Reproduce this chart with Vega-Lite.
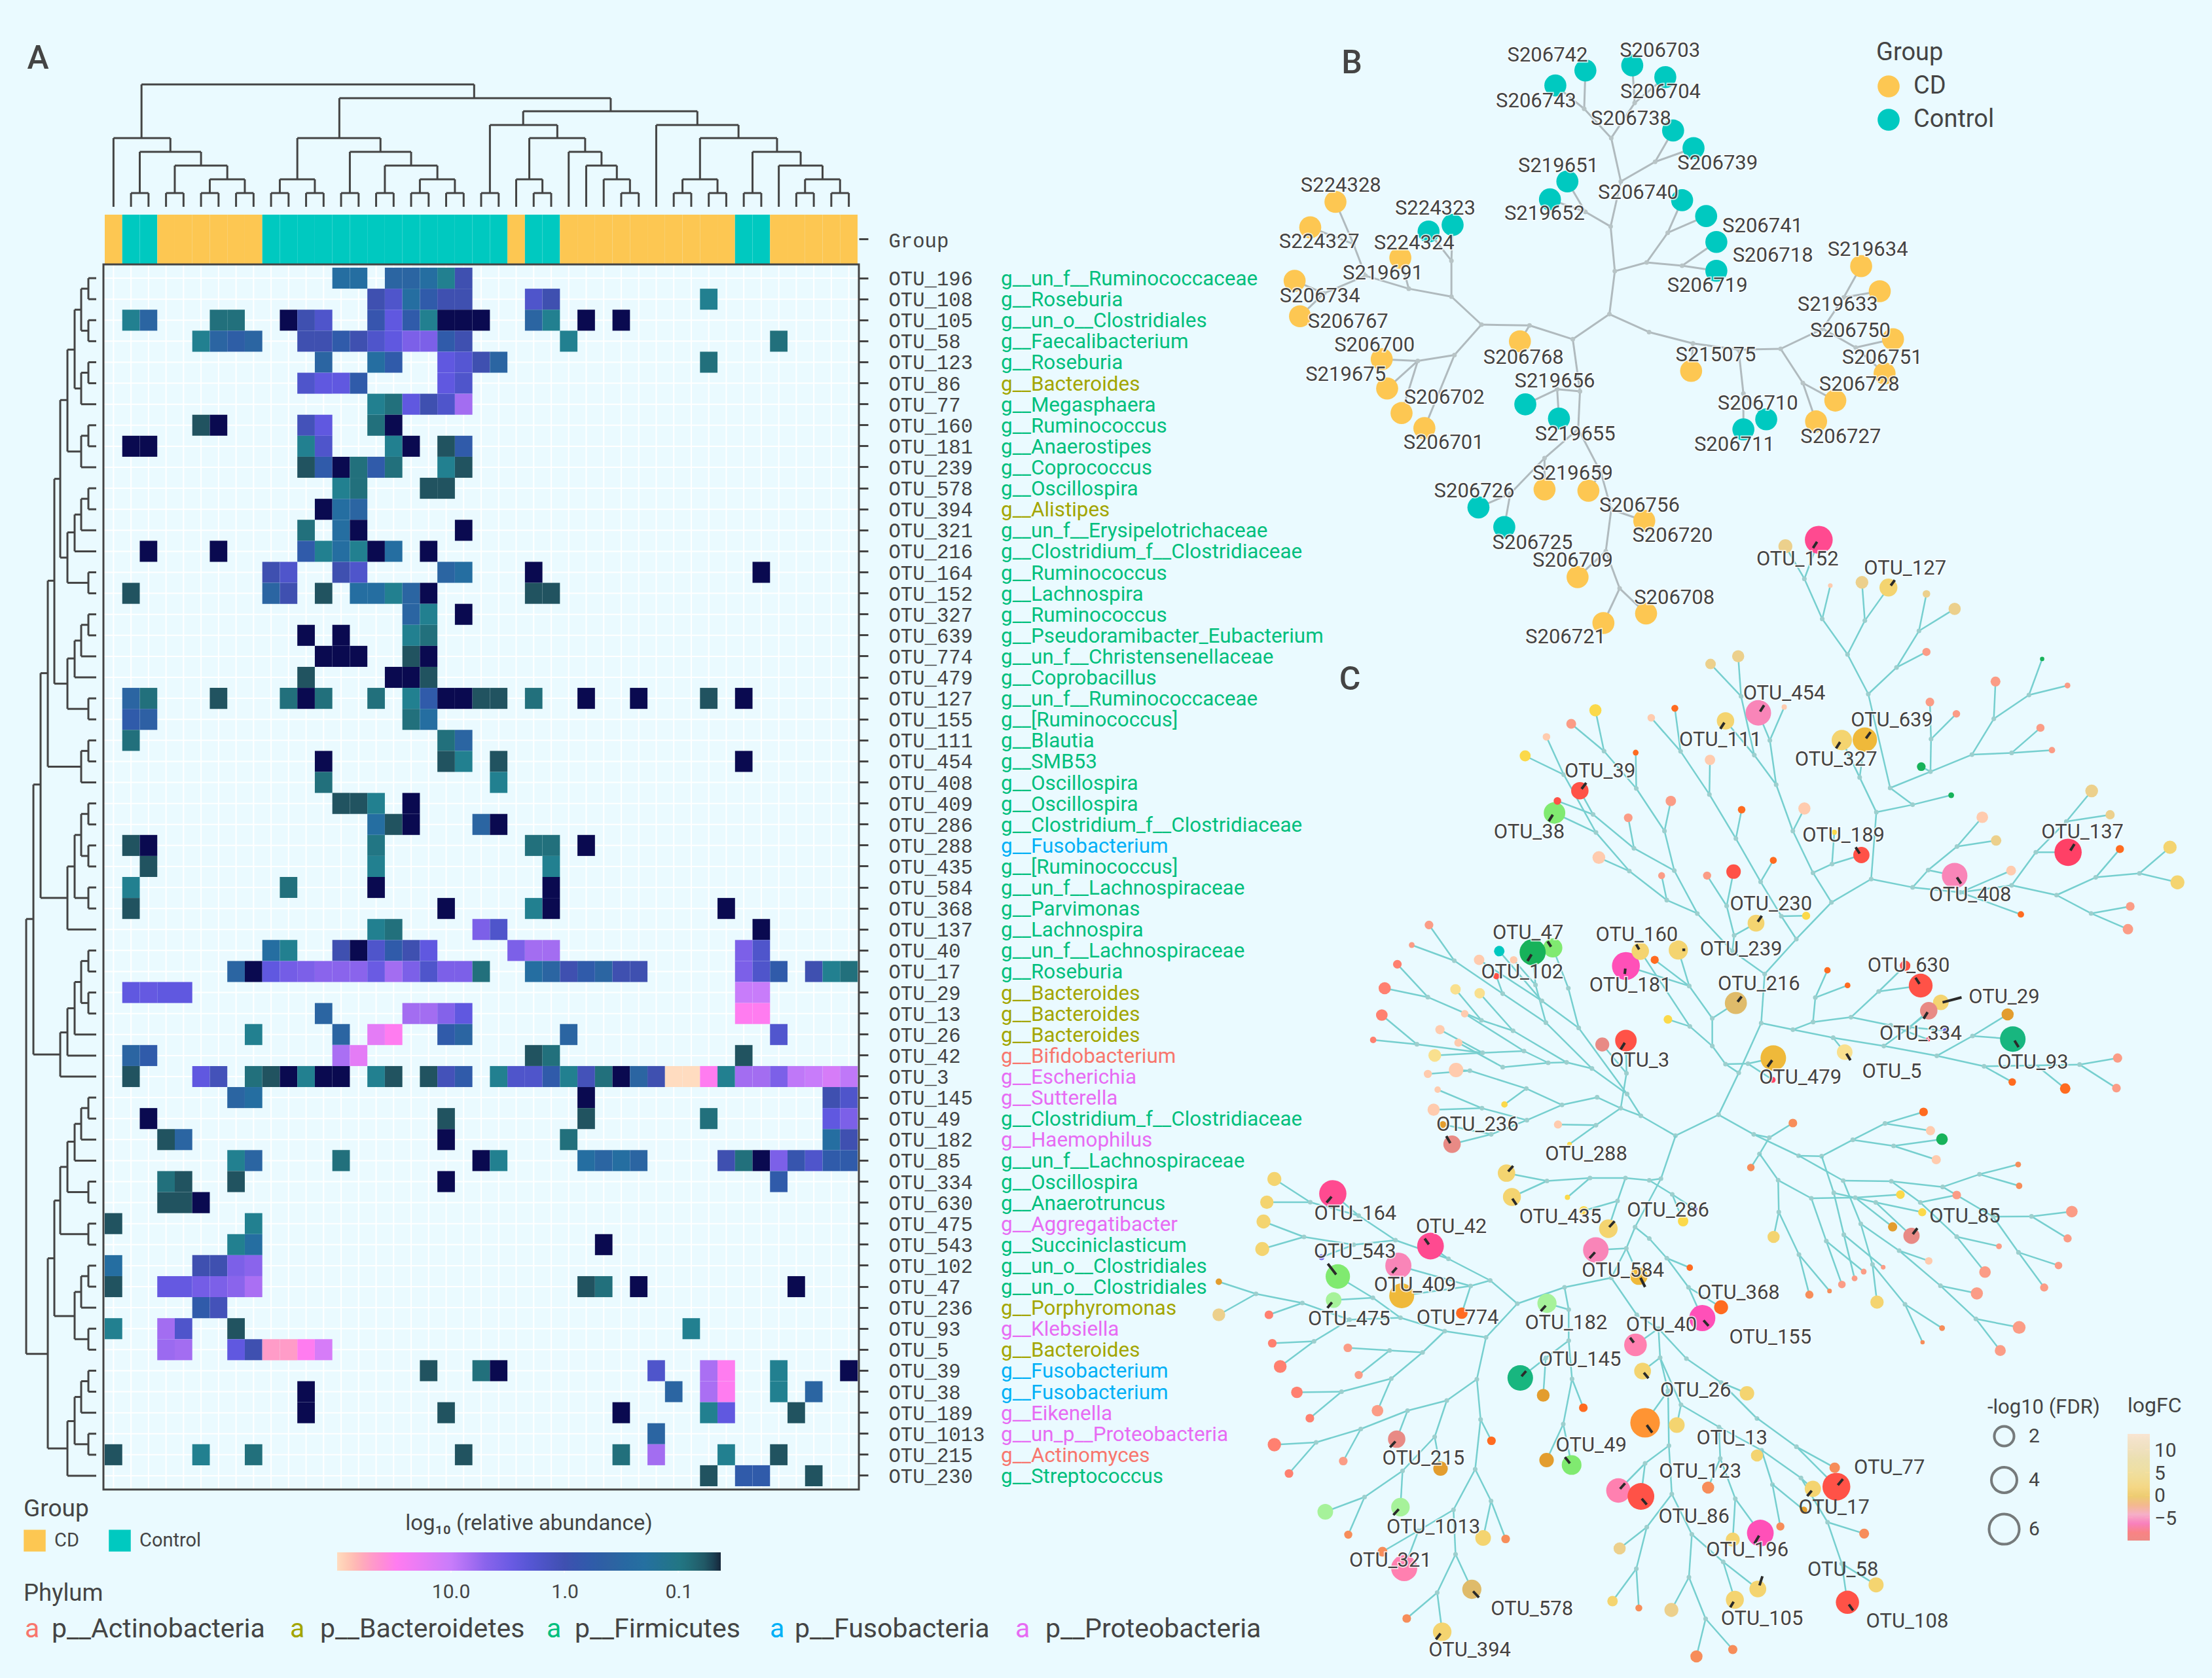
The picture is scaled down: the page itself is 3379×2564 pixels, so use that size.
{"$schema":"https://vega.github.io/schema/vega-lite/v6.json","width":3379,"height":2564,"padding":0,"autosize":{"type":"none"},"background":"#EAFAFF","config":{"font":"Roboto","view":{"stroke":null},"legend":{"titleColor":"#444","labelColor":"#444","titleFont":"Roboto","labelFont":"Roboto"}},
"resolve":{"scale":{"x":"independent","y":"independent","color":"independent","size":"independent"},"axis":{"y":"independent"}},
"datasets":{
"gc":[{"c":0},{"c":1},{"c":2},{"c":3},{"c":4},{"c":5},{"c":6},{"c":7},{"c":8},{"c":9},{"c":10},{"c":11},{"c":12},{"c":13},{"c":14},{"c":15},{"c":16},{"c":17},{"c":18},{"c":19},{"c":20},{"c":21},{"c":22},{"c":23},{"c":24},{"c":25},{"c":26},{"c":27},{"c":28},{"c":29},{"c":30},{"c":31},{"c":32},{"c":33},{"c":34},{"c":35},{"c":36},{"c":37},{"c":38},{"c":39},{"c":40},{"c":41},{"c":42}],
"gr":[{"r":0},{"r":1},{"r":2},{"r":3},{"r":4},{"r":5},{"r":6},{"r":7},{"r":8},{"r":9},{"r":10},{"r":11},{"r":12},{"r":13},{"r":14},{"r":15},{"r":16},{"r":17},{"r":18},{"r":19},{"r":20},{"r":21},{"r":22},{"r":23},{"r":24},{"r":25},{"r":26},{"r":27},{"r":28},{"r":29},{"r":30},{"r":31},{"r":32},{"r":33},{"r":34},{"r":35},{"r":36},{"r":37},{"r":38},{"r":39},{"r":40},{"r":41},{"r":42},{"r":43},{"r":44},{"r":45},{"r":46},{"r":47},{"r":48},{"r":49},{"r":50},{"r":51},{"r":52},{"r":53},{"r":54},{"r":55},{"r":56},{"r":57}],
"dt":[{"a":1,"b":2,"h":295,"ha":316,"hb":316},{"a":3,"b":4,"h":295,"ha":316,"hb":316},{"a":5,"b":6,"h":295,"ha":316,"hb":316},{"a":7,"b":8,"h":295,"ha":316,"hb":316},{"a":5.5,"b":7.5,"h":274,"ha":295,"hb":295},{"a":3.5,"b":6.5,"h":253,"ha":295,"hb":274},{"a":1.5,"b":5,"h":232,"ha":295,"hb":253},{"a":0,"b":3.25,"h":211,"ha":316,"hb":232},{"a":9,"b":10,"h":295,"ha":316,"hb":316},{"a":11,"b":12,"h":295,"ha":316,"hb":316},{"a":9.5,"b":11.5,"h":274,"ha":295,"hb":295},{"a":13,"b":14,"h":295,"ha":316,"hb":316},{"a":15,"b":16,"h":295,"ha":316,"hb":316},{"a":17,"b":18,"h":295,"ha":316,"hb":316},{"a":19,"b":20,"h":295,"ha":316,"hb":316},{"a":17.5,"b":19.5,"h":274,"ha":295,"hb":295},{"a":15.5,"b":18.5,"h":253,"ha":295,"hb":274},{"a":13.5,"b":17,"h":232,"ha":295,"hb":253},{"a":10.5,"b":15.25,"h":211,"ha":274,"hb":232},{"a":21,"b":22,"h":295,"ha":316,"hb":316},{"a":24,"b":25,"h":295,"ha":316,"hb":316},{"a":23,"b":24.5,"h":274,"ha":316,"hb":295},{"a":29,"b":30,"h":295,"ha":316,"hb":316},{"a":28,"b":29.5,"h":274,"ha":316,"hb":295},{"a":27,"b":28.75,"h":253,"ha":316,"hb":274},{"a":26,"b":27.875,"h":232,"ha":316,"hb":253},{"a":23.75,"b":26.94,"h":211,"ha":274,"hb":232},{"a":21.5,"b":25.35,"h":191,"ha":295,"hb":211},{"a":32,"b":33,"h":295,"ha":316,"hb":316},{"a":34,"b":35,"h":295,"ha":316,"hb":316},{"a":32.5,"b":34.5,"h":274,"ha":295,"hb":295},{"a":36,"b":37,"h":295,"ha":316,"hb":316},{"a":39,"b":40,"h":295,"ha":316,"hb":316},{"a":41,"b":42,"h":295,"ha":316,"hb":316},{"a":39.5,"b":41.5,"h":274,"ha":295,"hb":295},{"a":38,"b":40.5,"h":253,"ha":316,"hb":274},{"a":36.5,"b":39.25,"h":232,"ha":295,"hb":253},{"a":33.5,"b":37.9,"h":211,"ha":274,"hb":232},{"a":31,"b":35.7,"h":191,"ha":316,"hb":211},{"a":23.4,"b":33.35,"h":170,"ha":191,"hb":191},{"a":12.9,"b":28.4,"h":150,"ha":211,"hb":170},{"a":1.6,"b":20.6,"h":129,"ha":211,"hb":150}],
"dl":[{"a":0,"b":1,"h":135,"ha":147,"hb":147},{"a":2,"b":3,"h":135,"ha":147,"hb":147},{"a":0.5,"b":2.5,"h":124,"ha":135,"hb":135},{"a":4,"b":5,"h":135,"ha":147,"hb":147},{"a":4.5,"b":6,"h":124,"ha":135,"hb":147},{"a":1.5,"b":5.25,"h":114,"ha":124,"hb":124},{"a":7,"b":8,"h":135,"ha":147,"hb":147},{"a":7.5,"b":9,"h":124,"ha":135,"hb":147},{"a":3.4,"b":8.25,"h":103,"ha":114,"hb":124},{"a":10,"b":11,"h":135,"ha":147,"hb":147},{"a":10.5,"b":12,"h":124,"ha":135,"hb":147},{"a":11.25,"b":13,"h":114,"ha":124,"hb":147},{"a":14,"b":15,"h":135,"ha":147,"hb":147},{"a":12.1,"b":14.5,"h":103,"ha":114,"hb":135},{"a":5.8,"b":13.3,"h":92,"ha":103,"hb":103},{"a":16,"b":17,"h":135,"ha":147,"hb":147},{"a":16.5,"b":18,"h":124,"ha":135,"hb":147},{"a":17.25,"b":19,"h":114,"ha":124,"hb":147},{"a":20,"b":21,"h":135,"ha":147,"hb":147},{"a":18.1,"b":20.5,"h":103,"ha":114,"hb":135},{"a":9.55,"b":19.3,"h":83,"ha":92,"hb":103},{"a":22,"b":23,"h":135,"ha":147,"hb":147},{"a":22.5,"b":24,"h":124,"ha":135,"hb":147},{"a":14.4,"b":23.25,"h":73,"ha":83,"hb":124},{"a":25,"b":26,"h":135,"ha":147,"hb":147},{"a":27,"b":28,"h":135,"ha":147,"hb":147},{"a":25.5,"b":27.5,"h":124,"ha":135,"hb":135},{"a":29,"b":30,"h":135,"ha":147,"hb":147},{"a":26.5,"b":29.5,"h":114,"ha":124,"hb":135},{"a":28,"b":31,"h":103,"ha":114,"hb":147},{"a":18.8,"b":29.5,"h":62,"ha":73,"hb":103},{"a":32,"b":33,"h":135,"ha":147,"hb":147},{"a":34,"b":35,"h":135,"ha":147,"hb":147},{"a":32.5,"b":34.5,"h":124,"ha":135,"hb":135},{"a":33.5,"b":36,"h":114,"ha":124,"hb":147},{"a":34.75,"b":37,"h":103,"ha":114,"hb":147},{"a":35.9,"b":38,"h":92,"ha":103,"hb":147},{"a":24.1,"b":36.95,"h":51,"ha":62,"hb":92},{"a":39,"b":40,"h":135,"ha":147,"hb":147},{"a":39.5,"b":41,"h":124,"ha":135,"hb":147},{"a":40.25,"b":42,"h":114,"ha":124,"hb":147},{"a":43,"b":44,"h":135,"ha":147,"hb":147},{"a":41.1,"b":43.5,"h":103,"ha":114,"hb":135},{"a":45,"b":46,"h":135,"ha":147,"hb":147},{"a":42.3,"b":45.5,"h":92,"ha":103,"hb":135},{"a":47,"b":48,"h":135,"ha":147,"hb":147},{"a":47.5,"b":49,"h":124,"ha":135,"hb":147},{"a":50,"b":51,"h":135,"ha":147,"hb":147},{"a":48.25,"b":50.5,"h":114,"ha":124,"hb":135},{"a":43.9,"b":49.4,"h":83,"ha":92,"hb":114},{"a":52,"b":53,"h":135,"ha":147,"hb":147},{"a":52.5,"b":54,"h":124,"ha":135,"hb":147},{"a":55,"b":56,"h":135,"ha":147,"hb":147},{"a":53.25,"b":55.5,"h":114,"ha":124,"hb":135},{"a":54.4,"b":57,"h":103,"ha":114,"hb":147},{"a":46.65,"b":55.7,"h":73,"ha":83,"hb":103},{"a":30.5,"b":51.2,"h":40,"ha":51,"hb":73}],
"gb":[{"c":0,"g":"CD"},{"c":1,"g":"Control"},{"c":2,"g":"Control"},{"c":3,"g":"CD"},{"c":4,"g":"CD"},{"c":5,"g":"CD"},{"c":6,"g":"CD"},{"c":7,"g":"CD"},{"c":8,"g":"CD"},{"c":9,"g":"Control"},{"c":10,"g":"Control"},{"c":11,"g":"Control"},{"c":12,"g":"Control"},{"c":13,"g":"Control"},{"c":14,"g":"Control"},{"c":15,"g":"Control"},{"c":16,"g":"Control"},{"c":17,"g":"Control"},{"c":18,"g":"Control"},{"c":19,"g":"Control"},{"c":20,"g":"Control"},{"c":21,"g":"Control"},{"c":22,"g":"Control"},{"c":23,"g":"CD"},{"c":24,"g":"Control"},{"c":25,"g":"Control"},{"c":26,"g":"CD"},{"c":27,"g":"CD"},{"c":28,"g":"CD"},{"c":29,"g":"CD"},{"c":30,"g":"CD"},{"c":31,"g":"CD"},{"c":32,"g":"CD"},{"c":33,"g":"CD"},{"c":34,"g":"CD"},{"c":35,"g":"CD"},{"c":36,"g":"Control"},{"c":37,"g":"Control"},{"c":38,"g":"CD"},{"c":39,"g":"CD"},{"c":40,"g":"CD"},{"c":41,"g":"CD"},{"c":42,"g":"CD"}],
"genus":[{"o":"OTU_196","n":"g__un_f__Ruminococcaceae","p":"Firmicutes"},{"o":"OTU_108","n":"g__Roseburia","p":"Firmicutes"},{"o":"OTU_105","n":"g__un_o__Clostridiales","p":"Firmicutes"},{"o":"OTU_58","n":"g__Faecalibacterium","p":"Firmicutes"},{"o":"OTU_123","n":"g__Roseburia","p":"Firmicutes"},{"o":"OTU_86","n":"g__Bacteroides","p":"Bacteroidetes"},{"o":"OTU_77","n":"g__Megasphaera","p":"Firmicutes"},{"o":"OTU_160","n":"g__Ruminococcus","p":"Firmicutes"},{"o":"OTU_181","n":"g__Anaerostipes","p":"Firmicutes"},{"o":"OTU_239","n":"g__Coprococcus","p":"Firmicutes"},{"o":"OTU_578","n":"g__Oscillospira","p":"Firmicutes"},{"o":"OTU_394","n":"g__Alistipes","p":"Bacteroidetes"},{"o":"OTU_321","n":"g__un_f__Erysipelotrichaceae","p":"Firmicutes"},{"o":"OTU_216","n":"g__Clostridium_f__Clostridiaceae","p":"Firmicutes"},{"o":"OTU_164","n":"g__Ruminococcus","p":"Firmicutes"},{"o":"OTU_152","n":"g__Lachnospira","p":"Firmicutes"},{"o":"OTU_327","n":"g__Ruminococcus","p":"Firmicutes"},{"o":"OTU_639","n":"g__Pseudoramibacter_Eubacterium","p":"Firmicutes"},{"o":"OTU_774","n":"g__un_f__Christensenellaceae","p":"Firmicutes"},{"o":"OTU_479","n":"g__Coprobacillus","p":"Firmicutes"},{"o":"OTU_127","n":"g__un_f__Ruminococcaceae","p":"Firmicutes"},{"o":"OTU_155","n":"g__[Ruminococcus]","p":"Firmicutes"},{"o":"OTU_111","n":"g__Blautia","p":"Firmicutes"},{"o":"OTU_454","n":"g__SMB53","p":"Firmicutes"},{"o":"OTU_408","n":"g__Oscillospira","p":"Firmicutes"},{"o":"OTU_409","n":"g__Oscillospira","p":"Firmicutes"},{"o":"OTU_286","n":"g__Clostridium_f__Clostridiaceae","p":"Firmicutes"},{"o":"OTU_288","n":"g__Fusobacterium","p":"Fusobacteria"},{"o":"OTU_435","n":"g__[Ruminococcus]","p":"Firmicutes"},{"o":"OTU_584","n":"g__un_f__Lachnospiraceae","p":"Firmicutes"},{"o":"OTU_368","n":"g__Parvimonas","p":"Firmicutes"},{"o":"OTU_137","n":"g__Lachnospira","p":"Firmicutes"},{"o":"OTU_40","n":"g__un_f__Lachnospiraceae","p":"Firmicutes"},{"o":"OTU_17","n":"g__Roseburia","p":"Firmicutes"},{"o":"OTU_29","n":"g__Bacteroides","p":"Bacteroidetes"},{"o":"OTU_13","n":"g__Bacteroides","p":"Bacteroidetes"},{"o":"OTU_26","n":"g__Bacteroides","p":"Bacteroidetes"},{"o":"OTU_42","n":"g__Bifidobacterium","p":"Actinobacteria"},{"o":"OTU_3","n":"g__Escherichia","p":"Proteobacteria"},{"o":"OTU_145","n":"g__Sutterella","p":"Proteobacteria"},{"o":"OTU_49","n":"g__Clostridium_f__Clostridiaceae","p":"Firmicutes"},{"o":"OTU_182","n":"g__Haemophilus","p":"Proteobacteria"},{"o":"OTU_85","n":"g__un_f__Lachnospiraceae","p":"Firmicutes"},{"o":"OTU_334","n":"g__Oscillospira","p":"Firmicutes"},{"o":"OTU_630","n":"g__Anaerotruncus","p":"Firmicutes"},{"o":"OTU_475","n":"g__Aggregatibacter","p":"Proteobacteria"},{"o":"OTU_543","n":"g__Succiniclasticum","p":"Firmicutes"},{"o":"OTU_102","n":"g__un_o__Clostridiales","p":"Firmicutes"},{"o":"OTU_47","n":"g__un_o__Clostridiales","p":"Firmicutes"},{"o":"OTU_236","n":"g__Porphyromonas","p":"Bacteroidetes"},{"o":"OTU_93","n":"g__Klebsiella","p":"Proteobacteria"},{"o":"OTU_5","n":"g__Bacteroides","p":"Bacteroidetes"},{"o":"OTU_39","n":"g__Fusobacterium","p":"Fusobacteria"},{"o":"OTU_38","n":"g__Fusobacterium","p":"Fusobacteria"},{"o":"OTU_189","n":"g__Eikenella","p":"Proteobacteria"},{"o":"OTU_1013","n":"g__un_p__Proteobacteria","p":"Proteobacteria"},{"o":"OTU_215","n":"g__Actinomyces","p":"Actinobacteria"},{"o":"OTU_230","n":"g__Streptococcus","p":"Firmicutes"}],
"cells":[
{"o":"OTU_196","c":13,"v":0.22},{"o":"OTU_196","c":14,"v":0.22},{"o":"OTU_196","c":16,"v":0.35},{"o":"OTU_196","c":17,"v":0.35},{"o":"OTU_196","c":18,"v":0.22},{"o":"OTU_196","c":19,"v":0.13},{"o":"OTU_196","c":20,"v":1},
{"o":"OTU_108","c":15,"v":1},{"o":"OTU_108","c":16,"v":1.7},{"o":"OTU_108","c":17,"v":0.22},{"o":"OTU_108","c":18,"v":0.6},{"o":"OTU_108","c":19,"v":1},{"o":"OTU_108","c":20,"v":1},{"o":"OTU_108","c":24,"v":1.7},{"o":"OTU_108","c":25,"v":1},{"o":"OTU_108","c":34,"v":0.13},
{"o":"OTU_105","c":1,"v":0.13},{"o":"OTU_105","c":2,"v":0.35},{"o":"OTU_105","c":6,"v":0.085},{"o":"OTU_105","c":7,"v":0.085},{"o":"OTU_105","c":10,"v":0.03},{"o":"OTU_105","c":11,"v":1},{"o":"OTU_105","c":12,"v":1.7},{"o":"OTU_105","c":15,"v":0.8},{"o":"OTU_105","c":16,"v":2.6},{"o":"OTU_105","c":17,"v":0.6},{"o":"OTU_105","c":18,"v":0.13},{"o":"OTU_105","c":19,"v":0.03},{"o":"OTU_105","c":20,"v":0.03},{"o":"OTU_105","c":21,"v":0.03},{"o":"OTU_105","c":24,"v":0.35},{"o":"OTU_105","c":25,"v":0.13},{"o":"OTU_105","c":27,"v":0.03},{"o":"OTU_105","c":29,"v":0.03},
{"o":"OTU_58","c":5,"v":0.13},{"o":"OTU_58","c":6,"v":0.35},{"o":"OTU_58","c":7,"v":0.5},{"o":"OTU_58","c":8,"v":0.35},{"o":"OTU_58","c":11,"v":1},{"o":"OTU_58","c":12,"v":1},{"o":"OTU_58","c":13,"v":0.6},{"o":"OTU_58","c":14,"v":1},{"o":"OTU_58","c":15,"v":1.7},{"o":"OTU_58","c":16,"v":2.6},{"o":"OTU_58","c":17,"v":4},{"o":"OTU_58","c":18,"v":4},{"o":"OTU_58","c":19,"v":0.6},{"o":"OTU_58","c":20,"v":1},{"o":"OTU_58","c":26,"v":0.13},{"o":"OTU_58","c":38,"v":0.085},
{"o":"OTU_123","c":12,"v":0.35},{"o":"OTU_123","c":15,"v":0.22},{"o":"OTU_123","c":16,"v":0.6},{"o":"OTU_123","c":19,"v":2.6},{"o":"OTU_123","c":20,"v":2},{"o":"OTU_123","c":21,"v":1},{"o":"OTU_123","c":22,"v":0.35},{"o":"OTU_123","c":34,"v":0.085},
{"o":"OTU_86","c":11,"v":1.7},{"o":"OTU_86","c":12,"v":2.6},{"o":"OTU_86","c":13,"v":2.6},{"o":"OTU_86","c":14,"v":0.6},{"o":"OTU_86","c":19,"v":2.6},{"o":"OTU_86","c":20,"v":1.7},
{"o":"OTU_77","c":15,"v":0.13},{"o":"OTU_77","c":16,"v":0.085},{"o":"OTU_77","c":17,"v":2.6},{"o":"OTU_77","c":18,"v":1},{"o":"OTU_77","c":19,"v":1.7},{"o":"OTU_77","c":20,"v":6.5},
{"o":"OTU_160","c":5,"v":0.055},{"o":"OTU_160","c":6,"v":0.03},{"o":"OTU_160","c":11,"v":1.2},{"o":"OTU_160","c":12,"v":2.6},{"o":"OTU_160","c":15,"v":0.085},{"o":"OTU_160","c":16,"v":0.03},
{"o":"OTU_181","c":1,"v":0.03},{"o":"OTU_181","c":2,"v":0.03},{"o":"OTU_181","c":11,"v":0.13},{"o":"OTU_181","c":12,"v":1.7},{"o":"OTU_181","c":16,"v":0.13},{"o":"OTU_181","c":17,"v":0.03},{"o":"OTU_181","c":19,"v":0.055},{"o":"OTU_181","c":20,"v":0.6},
{"o":"OTU_239","c":11,"v":0.055},{"o":"OTU_239","c":12,"v":0.6},{"o":"OTU_239","c":13,"v":0.03},{"o":"OTU_239","c":14,"v":0.085},{"o":"OTU_239","c":15,"v":0.6},{"o":"OTU_239","c":16,"v":0.085},{"o":"OTU_239","c":19,"v":0.13},{"o":"OTU_239","c":20,"v":0.055},
{"o":"OTU_578","c":13,"v":0.13},{"o":"OTU_578","c":14,"v":0.085},{"o":"OTU_578","c":18,"v":0.055},{"o":"OTU_578","c":19,"v":0.055},
{"o":"OTU_394","c":12,"v":0.03},{"o":"OTU_394","c":13,"v":0.22},{"o":"OTU_394","c":14,"v":0.35},
{"o":"OTU_321","c":11,"v":0.085},{"o":"OTU_321","c":13,"v":0.22},{"o":"OTU_321","c":14,"v":0.03},{"o":"OTU_321","c":20,"v":0.03},
{"o":"OTU_216","c":2,"v":0.03},{"o":"OTU_216","c":6,"v":0.03},{"o":"OTU_216","c":11,"v":0.6},{"o":"OTU_216","c":12,"v":0.13},{"o":"OTU_216","c":13,"v":0.22},{"o":"OTU_216","c":14,"v":0.13},{"o":"OTU_216","c":15,"v":0.03},{"o":"OTU_216","c":16,"v":0.22},{"o":"OTU_216","c":18,"v":0.03},
{"o":"OTU_164","c":9,"v":1},{"o":"OTU_164","c":10,"v":1.7},{"o":"OTU_164","c":13,"v":1},{"o":"OTU_164","c":14,"v":1.7},{"o":"OTU_164","c":19,"v":0.35},{"o":"OTU_164","c":20,"v":0.22},{"o":"OTU_164","c":24,"v":0.03},{"o":"OTU_164","c":37,"v":0.03},
{"o":"OTU_152","c":1,"v":0.055},{"o":"OTU_152","c":9,"v":0.35},{"o":"OTU_152","c":10,"v":1},{"o":"OTU_152","c":12,"v":0.055},{"o":"OTU_152","c":14,"v":0.22},{"o":"OTU_152","c":15,"v":0.22},{"o":"OTU_152","c":16,"v":0.13},{"o":"OTU_152","c":17,"v":0.35},{"o":"OTU_152","c":18,"v":0.03},{"o":"OTU_152","c":24,"v":0.055},{"o":"OTU_152","c":25,"v":0.055},
{"o":"OTU_327","c":17,"v":0.35},{"o":"OTU_327","c":18,"v":0.13},{"o":"OTU_327","c":20,"v":0.03},
{"o":"OTU_639","c":11,"v":0.03},{"o":"OTU_639","c":13,"v":0.03},{"o":"OTU_639","c":17,"v":0.13},{"o":"OTU_639","c":18,"v":0.085},
{"o":"OTU_774","c":12,"v":0.03},{"o":"OTU_774","c":13,"v":0.03},{"o":"OTU_774","c":14,"v":0.03},{"o":"OTU_774","c":17,"v":0.055},{"o":"OTU_774","c":18,"v":0.03},
{"o":"OTU_479","c":11,"v":0.055},{"o":"OTU_479","c":16,"v":0.03},{"o":"OTU_479","c":17,"v":0.03},{"o":"OTU_479","c":18,"v":0.055},
{"o":"OTU_127","c":1,"v":0.35},{"o":"OTU_127","c":2,"v":0.085},{"o":"OTU_127","c":6,"v":0.055},{"o":"OTU_127","c":10,"v":0.085},{"o":"OTU_127","c":11,"v":0.03},{"o":"OTU_127","c":12,"v":0.085},{"o":"OTU_127","c":15,"v":0.085},{"o":"OTU_127","c":17,"v":0.13},{"o":"OTU_127","c":18,"v":0.6},{"o":"OTU_127","c":19,"v":0.03},{"o":"OTU_127","c":20,"v":0.03},{"o":"OTU_127","c":21,"v":0.055},{"o":"OTU_127","c":22,"v":0.055},{"o":"OTU_127","c":24,"v":0.085},{"o":"OTU_127","c":27,"v":0.03},{"o":"OTU_127","c":30,"v":0.03},{"o":"OTU_127","c":34,"v":0.055},{"o":"OTU_127","c":36,"v":0.03},
{"o":"OTU_155","c":1,"v":0.6},{"o":"OTU_155","c":2,"v":0.45},{"o":"OTU_155","c":17,"v":0.085},{"o":"OTU_155","c":18,"v":0.22},
{"o":"OTU_111","c":1,"v":0.085},{"o":"OTU_111","c":19,"v":0.085},{"o":"OTU_111","c":20,"v":0.35},
{"o":"OTU_454","c":12,"v":0.03},{"o":"OTU_454","c":19,"v":0.055},{"o":"OTU_454","c":20,"v":0.13},{"o":"OTU_454","c":22,"v":0.055},{"o":"OTU_454","c":36,"v":0.03},
{"o":"OTU_408","c":12,"v":0.085},{"o":"OTU_408","c":22,"v":0.13},
{"o":"OTU_409","c":13,"v":0.055},{"o":"OTU_409","c":14,"v":0.055},{"o":"OTU_409","c":15,"v":0.13},{"o":"OTU_409","c":17,"v":0.03},
{"o":"OTU_286","c":15,"v":0.22},{"o":"OTU_286","c":16,"v":0.055},{"o":"OTU_286","c":17,"v":0.03},{"o":"OTU_286","c":21,"v":0.35},{"o":"OTU_286","c":22,"v":0.03},
{"o":"OTU_288","c":1,"v":0.055},{"o":"OTU_288","c":2,"v":0.03},{"o":"OTU_288","c":15,"v":0.1},{"o":"OTU_288","c":24,"v":0.085},{"o":"OTU_288","c":25,"v":0.085},{"o":"OTU_288","c":27,"v":0.03},
{"o":"OTU_435","c":2,"v":0.055},{"o":"OTU_435","c":15,"v":0.13},{"o":"OTU_435","c":25,"v":0.13},
{"o":"OTU_584","c":1,"v":0.13},{"o":"OTU_584","c":10,"v":0.085},{"o":"OTU_584","c":15,"v":0.03},{"o":"OTU_584","c":25,"v":0.03},
{"o":"OTU_368","c":1,"v":0.055},{"o":"OTU_368","c":19,"v":0.03},{"o":"OTU_368","c":24,"v":0.13},{"o":"OTU_368","c":25,"v":0.03},{"o":"OTU_368","c":35,"v":0.03},
{"o":"OTU_137","c":15,"v":0.13},{"o":"OTU_137","c":16,"v":0.085},{"o":"OTU_137","c":21,"v":4},{"o":"OTU_137","c":22,"v":1.7},{"o":"OTU_137","c":37,"v":0.03},
{"o":"OTU_40","c":9,"v":0.22},{"o":"OTU_40","c":10,"v":0.13},{"o":"OTU_40","c":13,"v":1},{"o":"OTU_40","c":14,"v":0.03},{"o":"OTU_40","c":15,"v":1.7},{"o":"OTU_40","c":16,"v":0.6},{"o":"OTU_40","c":17,"v":1},{"o":"OTU_40","c":18,"v":2.6},{"o":"OTU_40","c":23,"v":4},{"o":"OTU_40","c":24,"v":6.5},{"o":"OTU_40","c":25,"v":6.5},{"o":"OTU_40","c":36,"v":4},{"o":"OTU_40","c":37,"v":1.7},
{"o":"OTU_17","c":7,"v":0.35},{"o":"OTU_17","c":8,"v":0.03},{"o":"OTU_17","c":9,"v":2.6},{"o":"OTU_17","c":10,"v":3.5},{"o":"OTU_17","c":11,"v":4},{"o":"OTU_17","c":12,"v":5},{"o":"OTU_17","c":13,"v":5},{"o":"OTU_17","c":14,"v":5},{"o":"OTU_17","c":15,"v":3},{"o":"OTU_17","c":16,"v":6.5},{"o":"OTU_17","c":17,"v":4},{"o":"OTU_17","c":18,"v":1.7},{"o":"OTU_17","c":19,"v":4},{"o":"OTU_17","c":20,"v":4},{"o":"OTU_17","c":21,"v":0.085},{"o":"OTU_17","c":24,"v":0.22},{"o":"OTU_17","c":25,"v":0.35},{"o":"OTU_17","c":26,"v":1},{"o":"OTU_17","c":27,"v":0.6},{"o":"OTU_17","c":28,"v":0.35},{"o":"OTU_17","c":29,"v":1},{"o":"OTU_17","c":30,"v":1},{"o":"OTU_17","c":36,"v":4},{"o":"OTU_17","c":37,"v":1.7},{"o":"OTU_17","c":38,"v":0.6},{"o":"OTU_17","c":40,"v":1},{"o":"OTU_17","c":41,"v":0.13},{"o":"OTU_17","c":42,"v":0.085},
{"o":"OTU_29","c":1,"v":2.6},{"o":"OTU_29","c":2,"v":2.8},{"o":"OTU_29","c":3,"v":2.6},{"o":"OTU_29","c":4,"v":2.6},{"o":"OTU_29","c":36,"v":10},{"o":"OTU_29","c":37,"v":10},
{"o":"OTU_13","c":12,"v":0.35},{"o":"OTU_13","c":17,"v":6.5},{"o":"OTU_13","c":18,"v":6.5},{"o":"OTU_13","c":19,"v":4.5},{"o":"OTU_13","c":20,"v":2.6},{"o":"OTU_13","c":36,"v":30},{"o":"OTU_13","c":37,"v":30},
{"o":"OTU_26","c":8,"v":0.13},{"o":"OTU_26","c":13,"v":0.35},{"o":"OTU_26","c":15,"v":17},{"o":"OTU_26","c":16,"v":30},{"o":"OTU_26","c":19,"v":0.6},{"o":"OTU_26","c":20,"v":0.35},{"o":"OTU_26","c":26,"v":0.35},{"o":"OTU_26","c":38,"v":1.8},
{"o":"OTU_42","c":1,"v":0.35},{"o":"OTU_42","c":2,"v":0.6},{"o":"OTU_42","c":13,"v":7},{"o":"OTU_42","c":14,"v":17},{"o":"OTU_42","c":24,"v":0.055},{"o":"OTU_42","c":25,"v":0.085},{"o":"OTU_42","c":36,"v":0.055},
{"o":"OTU_3","c":1,"v":0.055},{"o":"OTU_3","c":5,"v":2.6},{"o":"OTU_3","c":6,"v":1.2},{"o":"OTU_3","c":8,"v":0.085},{"o":"OTU_3","c":9,"v":0.055},{"o":"OTU_3","c":10,"v":0.03},{"o":"OTU_3","c":11,"v":0.13},{"o":"OTU_3","c":12,"v":0.03},{"o":"OTU_3","c":13,"v":0.03},{"o":"OTU_3","c":15,"v":0.13},{"o":"OTU_3","c":16,"v":0.055},{"o":"OTU_3","c":18,"v":0.055},{"o":"OTU_3","c":19,"v":1.2},{"o":"OTU_3","c":20,"v":0.6},{"o":"OTU_3","c":22,"v":0.13},{"o":"OTU_3","c":23,"v":1.7},{"o":"OTU_3","c":24,"v":1.7},{"o":"OTU_3","c":25,"v":0.6},{"o":"OTU_3","c":26,"v":0.13},{"o":"OTU_3","c":27,"v":1.2},{"o":"OTU_3","c":28,"v":0.085},{"o":"OTU_3","c":29,"v":0.03},{"o":"OTU_3","c":30,"v":0.35},{"o":"OTU_3","c":31,"v":1},{"o":"OTU_3","c":32,"v":100},{"o":"OTU_3","c":33,"v":100},{"o":"OTU_3","c":34,"v":30},{"o":"OTU_3","c":35,"v":0.13},{"o":"OTU_3","c":36,"v":6.5},{"o":"OTU_3","c":37,"v":6.5},{"o":"OTU_3","c":38,"v":4},{"o":"OTU_3","c":39,"v":9},{"o":"OTU_3","c":40,"v":10},{"o":"OTU_3","c":41,"v":13},{"o":"OTU_3","c":42,"v":9},
{"o":"OTU_145","c":7,"v":0.35},{"o":"OTU_145","c":8,"v":0.22},{"o":"OTU_145","c":27,"v":0.03},{"o":"OTU_145","c":41,"v":1},{"o":"OTU_145","c":42,"v":1.7},
{"o":"OTU_49","c":2,"v":0.03},{"o":"OTU_49","c":19,"v":0.055},{"o":"OTU_49","c":27,"v":0.055},{"o":"OTU_49","c":34,"v":0.085},{"o":"OTU_49","c":41,"v":2.6},{"o":"OTU_49","c":42,"v":4},
{"o":"OTU_182","c":3,"v":0.055},{"o":"OTU_182","c":4,"v":0.35},{"o":"OTU_182","c":19,"v":0.03},{"o":"OTU_182","c":26,"v":0.085},{"o":"OTU_182","c":41,"v":0.22},{"o":"OTU_182","c":42,"v":1},
{"o":"OTU_85","c":7,"v":0.13},{"o":"OTU_85","c":8,"v":0.35},{"o":"OTU_85","c":13,"v":0.085},{"o":"OTU_85","c":21,"v":0.03},{"o":"OTU_85","c":22,"v":0.13},{"o":"OTU_85","c":27,"v":0.22},{"o":"OTU_85","c":28,"v":0.35},{"o":"OTU_85","c":29,"v":0.22},{"o":"OTU_85","c":30,"v":0.35},{"o":"OTU_85","c":35,"v":1},{"o":"OTU_85","c":36,"v":0.085},{"o":"OTU_85","c":37,"v":0.03},{"o":"OTU_85","c":38,"v":4},{"o":"OTU_85","c":39,"v":0.8},{"o":"OTU_85","c":40,"v":1.7},{"o":"OTU_85","c":41,"v":0.6},{"o":"OTU_85","c":42,"v":0.6},
{"o":"OTU_334","c":3,"v":0.085},{"o":"OTU_334","c":4,"v":0.055},{"o":"OTU_334","c":7,"v":0.055},{"o":"OTU_334","c":19,"v":0.03},{"o":"OTU_334","c":38,"v":0.6},
{"o":"OTU_630","c":3,"v":0.055},{"o":"OTU_630","c":4,"v":0.055},{"o":"OTU_630","c":5,"v":0.03},
{"o":"OTU_475","c":0,"v":0.055},{"o":"OTU_475","c":8,"v":0.13},
{"o":"OTU_543","c":7,"v":0.13},{"o":"OTU_543","c":8,"v":0.22},{"o":"OTU_543","c":28,"v":0.03},
{"o":"OTU_102","c":0,"v":0.22},{"o":"OTU_102","c":5,"v":1},{"o":"OTU_102","c":6,"v":1},{"o":"OTU_102","c":7,"v":4},{"o":"OTU_102","c":8,"v":5},
{"o":"OTU_47","c":0,"v":0.055},{"o":"OTU_47","c":3,"v":2.8},{"o":"OTU_47","c":4,"v":2.8},{"o":"OTU_47","c":5,"v":3.5},{"o":"OTU_47","c":6,"v":4},{"o":"OTU_47","c":7,"v":5},{"o":"OTU_47","c":8,"v":7},{"o":"OTU_47","c":27,"v":0.055},{"o":"OTU_47","c":28,"v":0.085},{"o":"OTU_47","c":30,"v":0.03},{"o":"OTU_47","c":39,"v":0.03},
{"o":"OTU_236","c":5,"v":0.6},{"o":"OTU_236","c":6,"v":1.2},
{"o":"OTU_93","c":0,"v":0.13},{"o":"OTU_93","c":3,"v":6.5},{"o":"OTU_93","c":4,"v":1.7},{"o":"OTU_93","c":7,"v":0.055},{"o":"OTU_93","c":33,"v":0.13},
{"o":"OTU_5","c":3,"v":6},{"o":"OTU_5","c":4,"v":6.5},{"o":"OTU_5","c":7,"v":2.6},{"o":"OTU_5","c":8,"v":1},{"o":"OTU_5","c":9,"v":50},{"o":"OTU_5","c":10,"v":50},{"o":"OTU_5","c":11,"v":30},{"o":"OTU_5","c":12,"v":13},
{"o":"OTU_39","c":18,"v":0.055},{"o":"OTU_39","c":21,"v":0.085},{"o":"OTU_39","c":22,"v":0.03},{"o":"OTU_39","c":31,"v":1.7},{"o":"OTU_39","c":34,"v":7},{"o":"OTU_39","c":35,"v":30},{"o":"OTU_39","c":38,"v":0.13},{"o":"OTU_39","c":42,"v":0.03},
{"o":"OTU_38","c":11,"v":0.03},{"o":"OTU_38","c":32,"v":0.35},{"o":"OTU_38","c":34,"v":7},{"o":"OTU_38","c":35,"v":30},{"o":"OTU_38","c":38,"v":0.13},{"o":"OTU_38","c":40,"v":0.35},
{"o":"OTU_189","c":11,"v":0.03},{"o":"OTU_189","c":19,"v":0.055},{"o":"OTU_189","c":29,"v":0.03},{"o":"OTU_189","c":34,"v":0.13},{"o":"OTU_189","c":35,"v":2.6},{"o":"OTU_189","c":39,"v":0.055},
{"o":"OTU_1013","c":31,"v":0.35},
{"o":"OTU_215","c":0,"v":0.055},{"o":"OTU_215","c":5,"v":0.13},{"o":"OTU_215","c":8,"v":0.085},{"o":"OTU_215","c":20,"v":0.055},{"o":"OTU_215","c":29,"v":0.085},{"o":"OTU_215","c":31,"v":6.5},{"o":"OTU_215","c":35,"v":0.13},{"o":"OTU_215","c":38,"v":0.055},
{"o":"OTU_230","c":34,"v":0.055},{"o":"OTU_230","c":36,"v":0.6},{"o":"OTU_230","c":37,"v":0.6},{"o":"OTU_230","c":40,"v":0.055}],
"bn":[
{"x":565,"y":690,"px":565,"py":690,"k":"n"},{"x":574,"y":587,"px":565,"py":690,"k":"n"},{"x":504,"y":750,"px":565,"py":690,"k":"n"},{"x":631,"y":733,"px":565,"py":690,"k":"n"},{"x":567,"y":480,"px":574,"py":587,"k":"n"},{"x":627,"y":566,"px":574,"py":587,"k":"n"},{"x":584,"y":372,"px":567,"py":480,"k":"n"},{"x":525,"y":445,"px":567,"py":480,"k":"n"},{"x":568,"y":268,"px":584,"py":372,"k":"n"},{"x":641,"y":325,"px":584,"py":372,"k":"n"},{"x":523,"y":198,"px":568,"py":268,"k":"n"},{"x":607,"y":184,"px":568,"py":268,"k":"n"},
{"x":525,"y":106,"px":523,"py":198,"k":"Control"},{"x":475,"y":142,"px":523,"py":198,"k":"Control"},{"x":603,"y":94,"px":607,"py":184,"k":"Control"},{"x":658,"y":122,"px":607,"py":184,"k":"Control"},{"x":671,"y":250,"px":641,"py":325,"k":"Control"},{"x":705,"y":292,"px":641,"py":325,"k":"Control"},{"x":495,"y":372,"px":525,"py":445,"k":"Control"},{"x":466,"y":415,"px":525,"py":445,"k":"Control"},
{"x":662,"y":495,"px":627,"py":566,"k":"n"},{"x":686,"y":574,"px":627,"py":566,"k":"n"},{"x":686,"y":417,"px":662,"py":495,"k":"Control"},{"x":726,"y":455,"px":662,"py":495,"k":"Control"},{"x":743,"y":517,"px":686,"py":574,"k":"Control"},{"x":743,"y":586,"px":686,"py":574,"k":"Control"},
{"x":432,"y":717,"px":504,"py":750,"k":"n"},{"x":516,"y":875,"px":504,"py":750,"k":"n"},{"x":352,"y":715,"px":432,"py":717,"k":"n"},{"x":416,"y":755,"px":432,"py":717,"k":"CD"},{"x":302,"y":648,"px":352,"py":715,"k":"n"},{"x":307,"y":788,"px":352,"py":715,"k":"n"},{"x":231,"y":629,"px":302,"py":648,"k":"n"},{"x":302,"y":562,"px":302,"py":648,"k":"n"},{"x":304,"y":476,"px":302,"py":562,"k":"Control"},{"x":264,"y":492,"px":302,"py":562,"k":"Control"},{"x":217,"y":555,"px":231,"py":629,"k":"CD"},{"x":159,"y":598,"px":231,"py":629,"k":"n"},{"x":139,"y":522,"px":159,"py":598,"k":"n"},{"x":109,"y":421,"px":139,"py":522,"k":"CD"},{"x":67,"y":482,"px":139,"py":522,"k":"CD"},{"x":90,"y":640,"px":159,"py":598,"k":"n"},{"x":41,"y":610,"px":90,"py":640,"k":"CD"},{"x":50,"y":695,"px":90,"py":640,"k":"CD"},
{"x":257,"y":963,"px":307,"py":788,"k":"CD"},{"x":246,"y":802,"px":307,"py":788,"k":"n"},{"x":186,"y":798,"px":246,"py":802,"k":"CD"},{"x":195,"y":868,"px":246,"py":802,"k":"CD"},{"x":219,"y":927,"px":246,"py":802,"k":"CD"},
{"x":478,"y":870,"px":516,"py":875,"k":"n"},{"x":425,"y":906,"px":478,"py":870,"k":"Control"},{"x":481,"y":940,"px":478,"py":870,"k":"Control"},{"x":513,"y":965,"px":516,"py":875,"k":"n"},{"x":457,"y":1035,"px":513,"py":965,"k":"n"},{"x":457,"y":1110,"px":457,"py":1035,"k":"CD"},{"x":400,"y":1120,"px":457,"py":1035,"k":"n"},{"x":347,"y":1153,"px":400,"py":1120,"k":"Control"},{"x":390,"y":1200,"px":400,"py":1120,"k":"Control"},{"x":551,"y":1070,"px":513,"py":965,"k":"n"},{"x":530,"y":1113,"px":551,"py":1070,"k":"CD"},{"x":568,"y":1158,"px":551,"py":1070,"k":"n"},{"x":623,"y":1185,"px":568,"py":1158,"k":"CD"},{"x":559,"y":1258,"px":568,"py":1158,"k":"n"},{"x":512,"y":1320,"px":559,"py":1258,"k":"CD"},{"x":582,"y":1347,"px":559,"py":1258,"k":"n"},{"x":555,"y":1430,"px":582,"py":1347,"k":"CD"},{"x":626,"y":1407,"px":582,"py":1347,"k":"CD"},
{"x":704,"y":760,"px":631,"py":733,"k":"n"},{"x":701,"y":826,"px":704,"py":760,"k":"CD"},{"x":780,"y":775,"px":704,"py":760,"k":"n"},{"x":850,"y":773,"px":780,"py":775,"k":"n"},{"x":788,"y":880,"px":780,"py":775,"k":"n"},{"x":826,"y":942,"px":788,"py":880,"k":"Control"},{"x":788,"y":966,"px":788,"py":880,"k":"Control"},{"x":920,"y":725,"px":850,"py":773,"k":"n"},{"x":887,"y":855,"px":850,"py":773,"k":"n"},{"x":941,"y":897,"px":887,"py":855,"k":"CD"},{"x":909,"y":947,"px":887,"py":855,"k":"CD"},{"x":955,"y":650,"px":920,"py":725,"k":"n"},{"x":975,"y":770,"px":920,"py":725,"k":"n"},{"x":984,"y":575,"px":955,"py":650,"k":"CD"},{"x":1015,"y":635,"px":955,"py":650,"k":"CD"},{"x":1037,"y":750,"px":975,"py":770,"k":"CD"},{"x":1023,"y":832,"px":975,"py":770,"k":"CD"}],
"bl":[{"x":462,"y":70,"t":"S206742"},{"x":649,"y":60,"t":"S206703"},{"x":443,"y":180,"t":"S206743"},{"x":650,"y":158,"t":"S206704"},{"x":601,"y":223,"t":"S206738"},{"x":745,"y":330,"t":"S206739"},{"x":480,"y":335,"t":"S219651"},{"x":457,"y":450,"t":"S219652"},{"x":613,"y":400,"t":"S206740"},{"x":820,"y":480,"t":"S206741"},{"x":837,"y":551,"t":"S206718"},{"x":728,"y":623,"t":"S206719"},{"x":118,"y":383,"t":"S224328"},{"x":275,"y":438,"t":"S224323"},{"x":82,"y":518,"t":"S224327"},{"x":240,"y":521,"t":"S224324"},{"x":188,"y":592,"t":"S219691"},{"x":83,"y":647,"t":"S206734"},{"x":130,"y":708,"t":"S206767"},{"x":174,"y":765,"t":"S206700"},{"x":126,"y":835,"t":"S219675"},{"x":290,"y":890,"t":"S206702"},{"x":289,"y":999,"t":"S206701"},{"x":422,"y":795,"t":"S206768"},{"x":474,"y":852,"t":"S219656"},{"x":508,"y":978,"t":"S219655"},{"x":504,"y":1072,"t":"S219659"},{"x":340,"y":1115,"t":"S206726"},{"x":437,"y":1238,"t":"S206725"},{"x":615,"y":1149,"t":"S206756"},{"x":670,"y":1222,"t":"S206720"},{"x":504,"y":1281,"t":"S206709"},{"x":673,"y":1370,"t":"S206708"},{"x":492,"y":1465,"t":"S206721"},{"x":742,"y":788,"t":"S215075"},{"x":812,"y":905,"t":"S206710"},{"x":773,"y":1003,"t":"S206711"},{"x":966,"y":731,"t":"S206750"},{"x":1019,"y":795,"t":"S206751"},{"x":981,"y":860,"t":"S206728"},{"x":950,"y":985,"t":"S206727"},{"x":995,"y":537,"t":"S219634"},{"x":945,"y":668,"t":"S219633"}],
"c6":[
{"x":907,"y":1565,"px":846,"py":1711,"k":"n","f":0.03},{"x":976,"y":1472,"px":907,"py":1565,"k":"n","f":0.03},{"x":875,"y":1447,"px":907,"py":1565,"k":"n","f":0.03},{"x":908,"y":1412,"px":875,"py":1447,"k":"n","f":0.03},{"x":912,"y":1285,"px":908,"py":1412,"k":"bry","f":0.07},{"x":959,"y":1376,"px":908,"py":1412,"k":"red","f":1.66},{"x":840,"y":1280,"px":875,"py":1447,"k":"n","f":0.03},{"x":860,"y":1190,"px":840,"py":1280,"k":"peach","f":0.88},{"x":811,"y":1095,"px":840,"py":1280,"k":"n","f":0.03},{"x":773,"y":977,"px":811,"py":1095,"k":"n","f":0.03},{"x":800,"y":918,"px":811,"py":1095,"k":"n","f":0.03},{"x":750,"y":742,"px":773,"py":977,"k":"n","f":0.03},{"x":723,"y":840,"px":773,"py":977,"k":"yel","f":1.92},{"x":697,"y":613,"px":750,"py":742,"k":"sand","f":0.62},{"x":745,"y":582,"px":750,"py":742,"k":"sand","f":0.88},{"x":780,"y":808,"px":800,"py":918,"k":"pnk","f":4.27},{"x":825,"y":785,"px":800,"py":918,"k":"peach","f":0.07},
{"x":985,"y":1205,"px":976,"py":1472,"k":"n","f":0.03},{"x":956,"y":1066,"px":985,"py":1205,"k":"n","f":0.03},{"x":925,"y":917,"px":956,"py":1066,"k":"yel","f":2.66},{"x":965,"y":915,"px":956,"py":1066,"k":"gold","f":3.88},{"x":1048,"y":1175,"px":985,"py":1205,"k":"n","f":0.03},{"x":1115,"y":1137,"px":1048,"py":1175,"k":"grn","f":0.11},{"x":1009,"y":1108,"px":1048,"py":1175,"k":"n","f":0.03},{"x":971,"y":733,"px":1009,"py":1108,"k":"n","f":0.03},{"x":935,"y":575,"px":971,"py":733,"k":"n","f":0.03},{"x":891,"y":433,"px":935,"py":575,"k":"n","f":0.03},{"x":860,"y":273,"px":891,"py":433,"k":"n","f":0.03},{"x":905,"y":300,"px":891,"py":433,"k":"peach","f":0.03},{"x":885,"y":117,"px":860,"py":273,"k":"mag","f":5.1},{"x":827,"y":143,"px":860,"py":273,"k":"sand","f":1.19},{"x":965,"y":440,"px":935,"py":575,"k":"n","f":0.03},{"x":960,"y":287,"px":965,"py":440,"k":"sand","f":0.98},{"x":1006,"y":308,"px":965,"py":440,"k":"yel","f":2.06},{"x":1020,"y":627,"px":971,"py":733,"k":"n","f":0.03},{"x":1059,"y":481,"px":1020,"py":627,"k":"n","f":0.03},{"x":1072,"y":565,"px":1020,"py":627,"k":"sal","f":0.33},{"x":1072,"y":333,"px":1059,"py":481,"k":"sand","f":0.27},{"x":1121,"y":393,"px":1059,"py":481,"k":"sand","f":0.88},
{"x":1079,"y":1043,"px":1009,"py":1108,"k":"n","f":0.03},{"x":1063,"y":1023,"px":1079,"py":1043,"k":"grn","f":0.39},{"x":1080,"y":913,"px":1079,"py":1043,"k":"n","f":0.03},{"x":1078,"y":765,"px":1080,"py":913,"k":"sal","f":0.39},{"x":1124,"y":812,"px":1080,"py":913,"k":"sal","f":0.27},{"x":1151,"y":975,"px":1079,"py":1043,"k":"n","f":0.03},{"x":1189,"y":832,"px":1151,"py":975,"k":"n","f":0.03},{"x":1192,"y":683,"px":1189,"py":832,"k":"sal","f":0.54},{"x":1250,"y":737,"px":1189,"py":832,"k":"n","f":0.03},{"x":1273,"y":593,"px":1250,"py":737,"k":"grn","f":0.01},{"x":1317,"y":699,"px":1250,"py":737,"k":"sal","f":0.11},{"x":1220,"y":968,"px":1151,"py":975,"k":"n","f":0.03},{"x":1270,"y":868,"px":1220,"py":968,"k":"sal","f":0.33},{"x":1290,"y":957,"px":1220,"py":968,"k":"sal","f":0.16},
{"x":1048,"y":1505,"px":976,"py":1472,"k":"n","f":0.03},{"x":1075,"y":1436,"px":1048,"py":1505,"k":"n","f":0.03},{"x":1125,"y":1342,"px":1075,"py":1436,"k":"n","f":0.03},{"x":1193,"y":1318,"px":1125,"py":1342,"k":"sand","f":0.62},{"x":1169,"y":1225,"px":1125,"py":1342,"k":"peach","f":0.79},{"x":1121,"y":1458,"px":1075,"py":1436,"k":"pnk","f":4.27},{"x":1131,"y":1525,"px":1048,"py":1505,"k":"n","f":0.03},{"x":1219,"y":1438,"px":1131,"py":1525,"k":"peach","f":0.54},{"x":1236,"y":1613,"px":1131,"py":1525,"k":"org","f":0.16},{"x":1220,"y":1497,"px":1131,"py":1525,"k":"n","f":0.03},{"x":1262,"y":1365,"px":1220,"py":1497,"k":"n","f":0.03},{"x":1315,"y":1242,"px":1262,"py":1365,"k":"n","f":0.03},{"x":1318,"y":1365,"px":1262,"py":1365,"k":"rep","f":4.88},{"x":1359,"y":1120,"px":1315,"py":1242,"k":"sand","f":0.98},{"x":1391,"y":1215,"px":1315,"py":1242,"k":"sand","f":0.46},{"x":1298,"y":1536,"px":1220,"py":1497,"k":"n","f":0.03},{"x":1366,"y":1465,"px":1298,"py":1536,"k":"n","f":0.03},{"x":1408,"y":1352,"px":1366,"py":1465,"k":"org","f":0.33},{"x":1442,"y":1449,"px":1366,"py":1465,"k":"n","f":0.03},{"x":1495,"y":1345,"px":1442,"py":1449,"k":"yel","f":1.08},{"x":1508,"y":1485,"px":1442,"py":1449,"k":"yel","f":1.19},{"x":1358,"y":1609,"px":1298,"py":1536,"k":"n","f":0.03},{"x":1426,"y":1581,"px":1358,"py":1609,"k":"sal","f":0.39},{"x":1422,"y":1672,"px":1358,"py":1609,"k":"sal","f":0.62},
{"x":784,"y":1483,"px":820,"py":1620,"k":"n","f":0.03},{"x":806,"y":1397,"px":784,"py":1483,"k":"org","f":0.21},{"x":741,"y":1310,"px":784,"py":1483,"k":"n","f":0.03},{"x":751,"y":1195,"px":741,"py":1310,"k":"org","f":0.27},{"x":695,"y":1134,"px":741,"py":1310,"k":"n","f":0.03},{"x":696,"y":996,"px":695,"py":1134,"k":"peach","f":0.62},{"x":645,"y":962,"px":695,"py":1134,"k":"n","f":0.03},{"x":594,"y":828,"px":645,"py":962,"k":"peach","f":0.27},{"x":635,"y":790,"px":645,"py":962,"k":"org","f":0.21},{"x":737,"y":1442,"px":725,"py":1579,"k":"red","f":1.3},{"x":691,"y":1458,"px":725,"py":1579,"k":"sal","f":0.33},{"x":621,"y":1556,"px":674,"py":1609,"k":"n","f":0.03},{"x":612,"y":1458,"px":621,"py":1556,"k":"sal","f":0.21},{"x":556,"y":1440,"px":621,"py":1556,"k":"n","f":0.03},{"x":503,"y":1386,"px":556,"py":1440,"k":"peach","f":0.98},{"x":498,"y":1286,"px":556,"py":1440,"k":"n","f":0.03},{"x":426,"y":1208,"px":498,"py":1286,"k":"lgr","f":3.0},{"x":442,"y":1055,"px":498,"py":1286,"k":"n","f":0.03},{"x":375,"y":980,"px":442,"py":1055,"k":"bry","f":0.7},{"x":412,"y":904,"px":442,"py":1055,"k":"peach","f":0.27},{"x":634,"y":1438,"px":674,"py":1609,"k":"n","f":0.03},{"x":564,"y":1349,"px":634,"py":1438,"k":"n","f":0.03},{"x":554,"y":1227,"px":564,"py":1349,"k":"sal","f":0.39},{"x":493,"y":1214,"px":564,"py":1349,"k":"n","f":0.03},{"x":431,"y":1160,"px":493,"py":1214,"k":"red","f":0.27},{"x":470,"y":1119,"px":493,"py":1214,"k":"red","f":1.92},{"x":617,"y":1280,"px":634,"py":1438,"k":"n","f":0.03},{"x":628,"y":1160,"px":617,"py":1280,"k":"sal","f":0.62},{"x":568,"y":1110,"px":617,"py":1280,"k":"n","f":0.03},{"x":567,"y":967,"px":568,"py":1110,"k":"org","f":0.11},{"x":512,"y":961,"px":568,"py":1110,"k":"n","f":0.03},{"x":497,"y":798,"px":512,"py":961,"k":"bry","f":0.88},{"x":455,"y":852,"px":512,"py":961,"k":"sal","f":0.54}],
"c6l":[{"x":848,"y":197,"t":"OTU_152"},{"x":1035,"y":233,"t":"OTU_127"},{"x":825,"y":732,"t":"OTU_454"},{"x":714,"y":918,"t":"OTU_111"},{"x":1012,"y":840,"t":"OTU_639"},{"x":915,"y":995,"t":"OTU_327"},{"x":505,"y":1043,"t":"OTU_39"},{"x":382,"y":1285,"t":"OTU_38"},{"x":928,"y":1298,"t":"OTU_189"},{"x":1343,"y":1287,"t":"OTU_137"},{"x":1148,"y":1537,"t":"OTU_408"}],
"c6t":[{"x":875,"y":150,"x2":882,"y2":125},{"x":1010,"y":300,"x2":1017,"y2":278},{"x":783,"y":803,"x2":790,"y2":778},{"x":714,"y":872,"x2":721,"y2":847},{"x":967,"y":910,"x2":975,"y2":885},{"x":915,"y":950,"x2":922,"y2":925},{"x":473,"y":1112,"x2":481,"y2":1088},{"x":416,"y":1241,"x2":423,"y2":1215},{"x":956,"y":1370,"x2":949,"y2":1345},{"x":1322,"y":1358,"x2":1329,"y2":1332},{"x":1132,"y":1490,"x2":1125,"y2":1465}],
"c7":[
{"x":636,"y":1186,"px":636,"py":1186,"k":"n","f":0.03},{"x":711,"y":1090,"px":636,"py":1186,"k":"n","f":0.03},{"x":576,"y":1095,"px":636,"py":1186,"k":"n","f":0.03},{"x":746,"y":898,"px":711,"py":1090,"k":"n","f":0.03},{"x":785,"y":670,"px":746,"py":898,"k":"n","f":0.03},{"x":723,"y":858,"px":746,"py":898,"k":"n","f":0.03},{"x":762,"y":856,"px":723,"py":858,"k":"n","f":0.03},{"x":806,"y":830,"px":762,"py":856,"k":"gold","f":4.27},{"x":805,"y":930,"px":762,"py":856,"k":"rep","f":0.11},{"x":700,"y":775,"px":723,"py":858,"k":"n","f":0.03},{"x":700,"y":648,"px":700,"py":775,"k":"n","f":0.03},{"x":741,"y":578,"px":700,"py":648,"k":"tan","f":3.16},{"x":660,"y":500,"px":700,"py":648,"k":"n","f":0.03},{"x":600,"y":380,"px":660,"py":500,"k":"org","f":0.33},{"x":641,"y":335,"px":660,"py":500,"k":"yel","f":2.35},{"x":550,"y":408,"px":660,"py":500,"k":"hot","f":5.1},{"x":661,"y":685,"px":700,"py":775,"k":"n","f":0.03},{"x":623,"y":653,"px":661,"py":685,"k":"bry","f":0.39},{"x":575,"y":340,"px":661,"py":685,"k":"yel","f":1.92},
{"x":791,"y":445,"px":785,"py":670,"k":"n","f":0.03},{"x":735,"y":340,"px":791,"py":445,"k":"n","f":0.03},{"x":738,"y":268,"px":735,"py":340,"k":"n","f":0.03},{"x":776,"y":212,"px":738,"py":268,"k":"yel","f":1.79},{"x":725,"y":133,"px":738,"py":268,"k":"n","f":0.03},{"x":674,"y":168,"px":735,"py":340,"k":"n","f":0.03},{"x":846,"y":285,"px":791,"py":445,"k":"n","f":0.03},{"x":820,"y":180,"px":846,"py":285,"k":"n","f":0.03},{"x":863,"y":178,"px":820,"py":180,"k":"bry","f":0.33},
{"x":840,"y":700,"px":785,"py":670,"k":"n","f":0.03},{"x":875,"y":665,"px":840,"py":700,"k":"n","f":0.03},{"x":879,"y":553,"px":875,"py":665,"k":"n","f":0.03},{"x":900,"y":428,"px":879,"py":553,"k":"org","f":0.16},{"x":935,"y":497,"px":879,"py":553,"k":"org","f":0.11},{"x":941,"y":643,"px":875,"py":665,"k":"n","f":0.03},{"x":989,"y":525,"px":941,"py":643,"k":"n","f":0.03},{"x":1035,"y":407,"px":989,"py":525,"k":"red","f":0.62},{"x":1062,"y":498,"px":989,"py":525,"k":"red","f":3.7},{"x":1010,"y":680,"px":941,"py":643,"k":"n","f":0.03},{"x":1105,"y":705,"px":1010,"py":680,"k":"pur","f":0.07},{"x":1075,"y":745,"px":1010,"py":680,"k":"rep","f":0.01},{"x":910,"y":737,"px":840,"py":700,"k":"n","f":0.03},{"x":930,"y":803,"px":910,"py":737,"k":"lty","f":1.53},{"x":998,"y":775,"px":910,"py":737,"k":"n","f":0.03},{"x":1042,"y":690,"px":998,"py":775,"k":"n","f":0.03},{"x":1097,"y":575,"px":1042,"py":690,"k":"yel","f":1.53},{"x":1076,"y":613,"px":1042,"py":690,"k":"gry","f":1.92},{"x":1090,"y":820,"px":998,"py":775,"k":"n","f":0.03},{"x":1152,"y":729,"px":1090,"py":820,"k":"n","f":0.03},{"x":1213,"y":630,"px":1152,"py":729,"k":"ambe","f":0.88},{"x":1222,"y":743,"px":1152,"py":729,"k":"tgr","f":4.27},{"x":1172,"y":868,"px":1090,"py":820,"k":"n","f":0.03},{"x":1221,"y":940,"px":1172,"py":868,"k":"org","f":0.27},{"x":1338,"y":860,"px":1172,"py":868,"k":"n","f":0.03},{"x":1313,"y":970,"px":1265,"py":868,"k":"org","f":0.62},{"x":1404,"y":830,"px":1338,"py":860,"k":"sal","f":0.46},{"x":1402,"y":968,"px":1338,"py":860,"k":"sal","f":0.39},
{"x":552,"y":995,"px":576,"py":1095,"k":"n","f":0.03},{"x":541,"y":1060,"px":576,"py":1095,"k":"n","f":0.03},{"x":498,"y":1138,"px":541,"py":1060,"k":"n","f":0.03},{"x":432,"y":1135,"px":498,"py":1138,"k":"peach","f":0.33},{"x":452,"y":1225,"px":498,"py":1138,"k":"bry","f":0.03},{"x":500,"y":1010,"px":541,"py":1060,"k":"n","f":0.03},{"x":551,"y":900,"px":541,"py":1060,"k":"n","f":0.03},{"x":550,"y":750,"px":551,"py":900,"k":"red","f":3.0},{"x":509,"y":768,"px":551,"py":900,"k":"gry","f":1.19},{"x":491,"y":878,"px":552,"py":995,"k":"n","f":0.03},{"x":468,"y":692,"px":552,"py":995,"k":"n","f":0.03},{"x":450,"y":510,"px":468,"py":692,"k":"n","f":0.03},{"x":423,"y":325,"px":450,"py":510,"k":"lgr","f":2.35},{"x":411,"y":668,"px":491,"py":878,"k":"n","f":0.03},{"x":393,"y":495,"px":411,"py":668,"k":"n","f":0.03},{"x":355,"y":380,"px":393,"py":495,"k":"peach","f":0.27},{"x":388,"y":345,"px":393,"py":495,"k":"grn","f":4.47},{"x":404,"y":568,"px":468,"py":692,"k":"n","f":0.03},{"x":330,"y":340,"px":404,"py":568,"k":"teal","f":0.62},{"x":295,"y":380,"px":404,"py":568,"k":"peach","f":0.62},{"x":336,"y":535,"px":411,"py":668,"k":"n","f":0.03},{"x":325,"y":455,"px":336,"py":535,"k":"red","f":0.16},{"x":252,"y":384,"px":336,"py":535,"k":"n","f":0.03},{"x":208,"y":220,"px":252,"py":384,"k":"sal","f":0.39},{"x":178,"y":312,"px":252,"py":384,"k":"sal","f":0.11},
{"x":447,"y":850,"px":491,"py":878,"k":"n","f":0.03},{"x":354,"y":705,"px":447,"py":850,"k":"n","f":0.03},{"x":296,"y":533,"px":354,"py":705,"k":"lty","f":0.62},{"x":299,"y":657,"px":354,"py":705,"k":"n","f":0.03},{"x":254,"y":515,"px":299,"py":657,"k":"lty","f":0.62},{"x":206,"y":551,"px":299,"py":657,"k":"n","f":0.03},{"x":131,"y":510,"px":206,"py":551,"k":"cor","f":0.88},{"x":153,"y":400,"px":206,"py":551,"k":"cor","f":0.39},{"x":415,"y":852,"px":447,"py":850,"k":"n","f":0.03},{"x":373,"y":798,"px":415,"py":852,"k":"n","f":0.03},{"x":270,"y":627,"px":373,"py":798,"k":"peach","f":0.27},{"x":301,"y":806,"px":373,"py":798,"k":"n","f":0.03},{"x":218,"y":818,"px":301,"py":806,"k":"lty","f":0.98},{"x":227,"y":700,"px":301,"py":806,"k":"peach","f":0.46},{"x":187,"y":767,"px":301,"py":806,"k":"n","f":0.03},{"x":111,"y":747,"px":187,"py":767,"k":"cor","f":0.16},{"x":126,"y":633,"px":187,"py":767,"k":"cor","f":0.79},{"x":336,"y":872,"px":415,"py":852,"k":"n","f":0.03},{"x":259,"y":760,"px":336,"py":872,"k":"peach","f":0.33},
{"x":439,"y":1045,"px":500,"py":1010,"k":"n","f":0.03},{"x":377,"y":970,"px":439,"py":1045,"k":"n","f":0.03},{"x":339,"y":1043,"px":377,"py":970,"k":"bry","f":0.16},{"x":279,"y":888,"px":377,"py":970,"k":"n","f":0.03},{"x":255,"y":885,"px":279,"py":888,"k":"peach","f":1.3},{"x":206,"y":903,"px":279,"py":888,"k":"peach","f":0.33},{"x":378,"y":1115,"px":439,"py":1045,"k":"n","f":0.03},{"x":300,"y":1060,"px":378,"py":1115,"k":"n","f":0.03},{"x":216,"y":1067,"px":300,"py":1060,"k":"peach","f":0.88},{"x":223,"y":975,"px":300,"py":1060,"k":"peach","f":0.16},{"x":316,"y":1180,"px":378,"py":1115,"k":"n","f":0.03},{"x":248,"y":1225,"px":316,"py":1180,"k":"gry","f":1.92},{"x":232,"y":1135,"px":316,"py":1180,"k":"ambe","f":0.21},
{"x":772,"y":1180,"px":711,"py":1090,"k":"n","f":0.03},{"x":799,"y":1195,"px":772,"py":1180,"k":"n","f":0.03},{"x":840,"y":1128,"px":799,"py":1195,"k":"ora","f":0.39},{"x":782,"y":1270,"px":799,"py":1195,"k":"n","f":0.03},{"x":767,"y":1332,"px":782,"py":1270,"k":"ora","f":0.27},{"x":850,"y":1278,"px":772,"py":1180,"k":"n","f":0.03},{"x":890,"y":1280,"px":850,"py":1278,"k":"n","f":0.03},{"x":944,"y":1205,"px":890,"py":1280,"k":"n","f":0.03},{"x":1000,"y":1130,"px":944,"py":1205,"k":"n","f":0.03},{"x":1067,"y":1077,"px":1000,"py":1130,"k":"org","f":0.39},{"x":1079,"y":1163,"px":1000,"py":1130,"k":"peach","f":0.46},{"x":1015,"y":1233,"px":944,"py":1205,"k":"n","f":0.03},{"x":1099,"y":1202,"px":1015,"py":1233,"k":"grn","f":0.79},{"x":1089,"y":1296,"px":1015,"py":1233,"k":"peach","f":0.46}],
"c7l":[{"x":802,"y":125,"t":"OTU_230"},{"x":380,"y":258,"t":"OTU_47"},{"x":569,"y":268,"t":"OTU_160"},{"x":750,"y":333,"t":"OTU_239"},{"x":370,"y":438,"t":"OTU_102"},{"x":558,"y":498,"t":"OTU_181"},{"x":1041,"y":408,"t":"OTU_630"},{"x":781,"y":492,"t":"OTU_216"},{"x":1207,"y":553,"t":"OTU_29"},{"x":1062,"y":720,"t":"OTU_334"},{"x":574,"y":843,"t":"OTU_3"},{"x":1257,"y":852,"t":"OTU_93"},{"x":1012,"y":893,"t":"OTU_5"},{"x":853,"y":920,"t":"OTU_479"},{"x":292,"y":1137,"t":"OTU_236"},{"x":481,"y":1272,"t":"OTU_288"}],
"c7t":[{"x":779,"y":205,"x2":786,"y2":178},{"x":420,"y":320,"x2":414,"y2":295},{"x":573,"y":332,"x2":568,"y2":310},{"x":648,"y":334,"x2":653,"y2":334},{"x":379,"y":385,"x2":386,"y2":355},{"x":548,"y":445,"x2":549,"y2":420},{"x":1060,"y":490,"x2":1053,"y2":462},{"x":744,"y":572,"x2":751,"y2":548},{"x":1100,"y":575,"x2":1133,"y2":552},{"x":1067,"y":650,"x2":1074,"y2":620},{"x":541,"y":790,"x2":548,"y2":760},{"x":1232,"y":780,"x2":1225,"y2":750},{"x":940,"y":840,"x2":933,"y2":810},{"x":796,"y":870,"x2":804,"y2":840},{"x":245,"y":1220,"x2":238,"y2":1188}],
"c8":[
{"x":1156,"y":42,"px":1191,"py":-89,"k":"n","f":0.03},{"x":1128,"y":47,"px":1156,"py":42,"k":"n","f":0.03},{"x":1071,"y":40,"px":1128,"py":47,"k":"n","f":0.03},{"x":986,"y":40,"px":1071,"py":40,"k":"n","f":0.03},{"x":883,"y":49,"px":986,"py":40,"k":"n","f":0.03},{"x":786,"y":25,"px":883,"py":49,"k":"yel","f":1.92},{"x":799,"y":98,"px":883,"py":49,"k":"yel","f":2.06},{"x":932,"y":99,"px":986,"py":40,"k":"bry","f":0.07},{"x":1052,"y":110,"px":1071,"py":40,"k":"n","f":0.03},{"x":1030,"y":195,"px":1052,"py":110,"k":"yel","f":2.2},{"x":971,"y":140,"px":1052,"py":110,"k":"bry","f":0.46},{"x":1183,"y":90,"px":1128,"py":47,"k":"n","f":0.03},{"x":1237,"y":135,"px":1183,"py":90,"k":"pur","f":0.07},{"x":1209,"y":172,"px":1183,"py":90,"k":"bry","f":0.62},
{"x":1094,"y":190,"px":1156,"py":42,"k":"n","f":0.03},{"x":1128,"y":225,"px":1094,"py":190,"k":"n","f":0.03},{"x":1170,"y":285,"px":1128,"py":225,"k":"n","f":0.03},{"x":1225,"y":314,"px":1170,"py":285,"k":"org","f":0.16},{"x":1222,"y":374,"px":1170,"py":285,"k":"n","f":0.03},{"x":1300,"y":435,"px":1222,"py":374,"k":"org","f":1.19},{"x":1255,"y":468,"px":1222,"py":374,"k":"hot","f":4.47},{"x":1073,"y":255,"px":1094,"py":190,"k":"n","f":0.03},{"x":1000,"y":260,"px":1073,"py":255,"k":"pnk","f":4.27},{"x":1103,"y":340,"px":1073,"py":255,"k":"gold","f":1.92},{"x":1037,"y":345,"px":1073,"py":255,"k":"n","f":0.03},{"x":925,"y":374,"px":1037,"py":345,"k":"n","f":0.03},{"x":812,"y":424,"px":925,"py":374,"k":"n","f":0.03},{"x":935,"y":442,"px":925,"py":374,"k":"n","f":0.03},{"x":883,"y":423,"px":935,"py":442,"k":"lg2","f":2.35},{"x":935,"y":537,"px":935,"py":442,"k":"n","f":0.03},{"x":880,"y":590,"px":935,"py":537,"k":"n","f":0.03},{"x":819,"y":651,"px":880,"py":590,"k":"tgr","f":4.27},{"x":874,"y":704,"px":880,"py":590,"k":"ambe","f":0.98},{"x":943,"y":654,"px":935,"py":537,"k":"n","f":0.03},{"x":970,"y":742,"px":943,"py":654,"k":"org","f":0.39},{"x":922,"y":792,"px":943,"py":654,"k":"n","f":0.03},{"x":882,"y":902,"px":922,"py":792,"k":"ambe","f":1.3},{"x":942,"y":917,"px":922,"py":792,"k":"lgr","f":2.5},
{"x":1098,"y":458,"px":1037,"py":345,"k":"n","f":0.03},{"x":1150,"y":500,"px":1098,"py":458,"k":"n","f":0.03},{"x":1095,"y":550,"px":1150,"py":500,"k":"rose","f":3.34},{"x":1154,"y":589,"px":1150,"py":500,"k":"n","f":0.03},{"x":1112,"y":630,"px":1154,"py":589,"k":"yel","f":1.79},{"x":1173,"y":690,"px":1154,"py":589,"k":"n","f":0.03},{"x":1118,"y":788,"px":1173,"py":690,"k":"orb","f":5.77},{"x":1175,"y":858,"px":1173,"py":690,"k":"n","f":0.03},{"x":1118,"y":912,"px":1175,"py":858,"k":"n","f":0.03},{"x":1054,"y":995,"px":1118,"py":912,"k":"rose","f":3.88},{"x":1108,"y":1013,"px":1118,"py":912,"k":"red","f":4.68},{"x":1182,"y":1006,"px":1175,"py":858,"k":"n","f":0.03},{"x":1122,"y":1107,"px":1182,"py":1006,"k":"n","f":0.03},{"x":1057,"y":1172,"px":1122,"py":1107,"k":"sand","f":0.88},{"x":1097,"y":1234,"px":1122,"py":1107,"k":"n","f":0.03},{"x":1040,"y":1333,"px":1097,"py":1234,"k":"yel","f":0.62},{"x":1103,"y":1354,"px":1097,"py":1234,"k":"ora","f":0.21},{"x":1230,"y":1129,"px":1182,"py":1006,"k":"n","f":0.03},{"x":1223,"y":1260,"px":1230,"py":1129,"k":"n","f":0.03},{"x":1181,"y":1360,"px":1223,"py":1260,"k":"sand","f":1.19},{"x":1263,"y":1387,"px":1223,"py":1260,"k":"n","f":0.03},{"x":1241,"y":1502,"px":1263,"py":1387,"k":"ora","f":0.88},{"x":1328,"y":1481,"px":1263,"py":1387,"k":"ora","f":0.46},{"x":1305,"y":1213,"px":1230,"py":1129,"k":"n","f":0.03},{"x":1333,"y":1329,"px":1305,"py":1213,"k":"yel","f":2.06},{"x":1388,"y":1296,"px":1305,"py":1213,"k":"yel","f":1.79},
{"x":1204,"y":733,"px":1154,"py":589,"k":"n","f":0.03},{"x":1194,"y":795,"px":1204,"py":733,"k":"yel","f":1.53},{"x":1295,"y":801,"px":1204,"py":733,"k":"n","f":0.03},{"x":1298,"y":897,"px":1295,"py":801,"k":"n","f":0.03},{"x":1269,"y":986,"px":1298,"py":897,"k":"ora","f":0.88},{"x":1334,"y":1020,"px":1298,"py":897,"k":"n","f":0.03},{"x":1328,"y":1145,"px":1334,"py":1020,"k":"yel","f":1.19},{"x":1394,"y":1125,"px":1334,"py":1020,"k":"hot","f":4.68},{"x":1397,"y":872,"px":1295,"py":801,"k":"n","f":0.03},{"x":1386,"y":888,"px":1397,"py":872,"k":"yel","f":0.88},{"x":1423,"y":977,"px":1397,"py":872,"k":"n","f":0.03},{"x":1442,"y":1105,"px":1423,"py":977,"k":"ora","f":0.33},{"x":1217,"y":592,"px":1150,"py":500,"k":"n","f":0.03},{"x":1300,"y":665,"px":1217,"py":592,"k":"n","f":0.03},{"x":1362,"y":698,"px":1300,"py":665,"k":"yel","f":1.3},{"x":1386,"y":775,"px":1300,"py":665,"k":"n","f":0.03},
{"x":747,"y":353,"px":812,"py":424,"k":"n","f":0.03},{"x":647,"y":287,"px":747,"py":353,"k":"n","f":0.03},{"x":604,"y":248,"px":647,"py":287,"k":"mag","f":4.68},{"x":520,"y":230,"px":647,"py":287,"k":"n","f":0.03},{"x":432,"y":155,"px":520,"py":230,"k":"n","f":0.03},{"x":370,"y":88,"px":432,"py":155,"k":"mag","f":4.88},{"x":316,"y":114,"px":432,"py":155,"k":"n","f":0.03},{"x":230,"y":43,"px":316,"py":114,"k":"yel","f":1.19},{"x":212,"y":114,"px":316,"py":114,"k":"yel","f":1.08},{"x":420,"y":244,"px":520,"py":230,"k":"n","f":0.03},{"x":301,"y":220,"px":420,"py":244,"k":"n","f":0.03},{"x":204,"y":173,"px":301,"py":220,"k":"yel","f":1.19},{"x":201,"y":257,"px":301,"py":220,"k":"yel","f":1.19},{"x":343,"y":282,"px":420,"py":244,"k":"pur","f":0.11},{"x":700,"y":370,"px":747,"py":353,"k":"n","f":0.03},{"x":535,"y":400,"px":700,"py":370,"k":"gold","f":4.07},{"x":527,"y":308,"px":700,"py":370,"k":"pnk","f":4.47},{"x":679,"y":453,"px":700,"py":370,"k":"org","f":0.79},
{"x":737,"y":527,"px":812,"py":424,"k":"n","f":0.03},{"x":638,"y":508,"px":737,"py":527,"k":"n","f":0.03},{"x":532,"y":467,"px":638,"py":508,"k":"n","f":0.03},{"x":466,"y":406,"px":532,"py":467,"k":"n","f":0.03},{"x":372,"y":413,"px":466,"py":406,"k":"lg2","f":1.53},{"x":382,"y":341,"px":466,"py":406,"k":"lgr","f":3.88},{"x":410,"y":473,"px":532,"py":467,"k":"n","f":0.03},{"x":297,"y":422,"px":410,"py":473,"k":"n","f":0.03},{"x":217,"y":458,"px":297,"py":422,"k":"cor","f":0.39},{"x":186,"y":394,"px":297,"py":422,"k":"n","f":0.03},{"x":97,"y":357,"px":186,"py":394,"k":"ambe","f":0.16},{"x":97,"y":458,"px":186,"py":394,"k":"sand","f":0.98},{"x":325,"y":539,"px":410,"py":473,"k":"n","f":0.03},{"x":225,"y":545,"px":325,"py":539,"k":"cor","f":0.39},{"x":244,"y":616,"px":325,"py":539,"k":"cor","f":0.98},{"x":585,"y":573,"px":638,"py":508,"k":"n","f":0.03},{"x":506,"y":567,"px":585,"py":573,"k":"n","f":0.03},{"x":406,"y":559,"px":506,"py":567,"k":"sal","f":0.39},{"x":432,"y":642,"px":506,"py":567,"k":"sal","f":0.33},{"x":510,"y":653,"px":585,"py":573,"k":"n","f":0.03},{"x":477,"y":751,"px":510,"py":653,"k":"sal","f":0.79},{"x":391,"y":693,"px":510,"py":653,"k":"n","f":0.03},{"x":284,"y":695,"px":391,"py":693,"k":"cor","f":0.79},{"x":315,"y":774,"px":391,"py":693,"k":"cor","f":0.39},
{"x":715,"y":655,"px":737,"py":527,"k":"n","f":0.03},{"x":643,"y":720,"px":715,"py":655,"k":"n","f":0.03},{"x":549,"y":751,"px":643,"py":720,"k":"n","f":0.03},{"x":523,"y":838,"px":549,"py":751,"k":"gry","f":1.92},{"x":437,"y":807,"px":549,"py":751,"k":"n","f":0.03},{"x":395,"y":905,"px":437,"py":807,"k":"sal","f":0.39},{"x":330,"y":848,"px":437,"py":807,"k":"n","f":0.03},{"x":230,"y":855,"px":330,"py":848,"k":"cor","f":1.08},{"x":265,"y":943,"px":330,"py":848,"k":"cor","f":0.39},{"x":614,"y":831,"px":643,"py":720,"k":"n","f":0.03},{"x":628,"y":928,"px":614,"py":831,"k":"ambe","f":1.3},{"x":537,"y":935,"px":614,"py":831,"k":"n","f":0.03},{"x":532,"y":1046,"px":537,"py":935,"k":"lg2","f":2.2},{"x":446,"y":1015,"px":537,"py":935,"k":"n","f":0.03},{"x":352,"y":1060,"px":446,"py":1015,"k":"lg2","f":1.53},{"x":407,"y":1130,"px":446,"py":1015,"k":"ora","f":0.33},{"x":724,"y":778,"px":715,"py":655,"k":"n","f":0.03},{"x":750,"y":843,"px":724,"py":778,"k":"org","f":0.39},{"x":711,"y":930,"px":724,"py":778,"k":"n","f":0.03},{"x":659,"y":1054,"px":711,"py":930,"k":"n","f":0.03},{"x":575,"y":1118,"px":659,"py":1054,"k":"n","f":0.03},{"x":489,"y":1182,"px":575,"py":1118,"k":"ora","f":0.54},{"x":541,"y":1232,"px":575,"py":1118,"k":"rose","f":4.47},{"x":664,"y":1190,"px":659,"py":1054,"k":"n","f":0.03},{"x":620,"y":1307,"px":664,"py":1190,"k":"n","f":0.03},{"x":703,"y":1297,"px":664,"py":1190,"k":"tan","f":2.35},{"x":547,"y":1386,"px":620,"py":1307,"k":"ora","f":0.39},{"x":632,"y":1427,"px":620,"py":1307,"k":"yel","f":2.2},{"x":749,"y":1027,"px":711,"py":930,"k":"n","f":0.03},{"x":730,"y":1140,"px":749,"py":1027,"k":"yel","f":1.53},{"x":784,"y":1143,"px":749,"py":1027,"k":"ora","f":0.39}],
"c8l":[{"x":424,"y":150,"t":"OTU_164"},{"x":654,"y":190,"t":"OTU_42"},{"x":915,"y":160,"t":"OTU_435"},{"x":1173,"y":140,"t":"OTU_286"},{"x":423,"y":266,"t":"OTU_543"},{"x":567,"y":367,"t":"OTU_409"},{"x":1065,"y":323,"t":"OTU_584"},{"x":1342,"y":392,"t":"OTU_368"},{"x":409,"y":472,"t":"OTU_475"},{"x":669,"y":468,"t":"OTU_774"},{"x":929,"y":483,"t":"OTU_182"},{"x":1157,"y":490,"t":"OTU_40"},{"x":1418,"y":527,"t":"OTU_155"},{"x":962,"y":595,"t":"OTU_145"},{"x":1239,"y":689,"t":"OTU_26"},{"x":587,"y":898,"t":"OTU_215"},{"x":989,"y":858,"t":"OTU_49"},{"x":1326,"y":836,"t":"OTU_13"},{"x":1250,"y":938,"t":"OTU_123"},{"x":1235,"y":1075,"t":"OTU_86"},{"x":611,"y":1107,"t":"OTU_1013"},{"x":1363,"y":1177,"t":"OTU_196"},{"x":508,"y":1210,"t":"OTU_321"},{"x":847,"y":1358,"t":"OTU_578"},{"x":1398,"y":1388,"t":"OTU_105"},{"x":698,"y":1484,"t":"OTU_394"}],
"c8t":[{"x":355,"y":115,"x2":367,"y2":97},{"x":600,"y":243,"x2":590,"y2":225},{"x":1032,"y":190,"x2":1045,"y2":172},{"x":985,"y":285,"x2":998,"y2":267},{"x":358,"y":302,"x2":378,"y2":335},{"x":512,"y":330,"x2":523,"y2":314},{"x":1107,"y":345,"x2":1118,"y2":373},{"x":1258,"y":475,"x2":1270,"y2":492},{"x":357,"y":437,"x2":368,"y2":420},{"x":868,"y":447,"x2":880,"y2":430},{"x":1082,"y":528,"x2":1091,"y2":543},{"x":822,"y":646,"x2":833,"y2":630},{"x":1122,"y":795,"x2":1135,"y2":818},{"x":507,"y":863,"x2":520,"y2":845},{"x":926,"y":893,"x2":938,"y2":912},{"x":1380,"y":1157,"x2":1391,"y2":1133},{"x":706,"y":1303,"x2":720,"y2":1322},{"x":1322,"y":1352,"x2":1330,"y2":1335},{"x":1392,"y":1285,"x2":1399,"y2":1257},{"x":617,"y":1450,"x2":628,"y2":1432},{"x":1058,"y":990,"x2":1070,"y2":973},{"x":1110,"y":1020,"x2":1122,"y2":1038},{"x":1115,"y":635,"x2":1126,"y2":652},{"x":800,"y":103,"x2":810,"y2":122},{"x":790,"y":20,"x2":802,"y2":3},{"x":515,"y":1070,"x2":528,"y2":1052}],
"c9":[{"x":102,"y":482,"px":-36,"py":352,"k":"n","f":0.03},{"x":237,"y":578,"px":102,"py":482,"k":"ora","f":0.62},{"x":243,"y":665,"px":102,"py":482,"k":"red","f":5.1},{"x":118,"y":625,"px":-20,"py":498,"k":"n","f":0.03},{"x":160,"y":675,"px":118,"py":625,"k":"yel","f":1.66},{"x":212,"y":828,"px":118,"py":625,"k":"n","f":0.03},{"x":341,"y":880,"px":212,"py":828,"k":"ora","f":0.54},{"x":262,"y":1018,"px":212,"py":828,"k":"n","f":0.03},{"x":383,"y":1115,"px":262,"py":1018,"k":"yel","f":1.41},{"x":282,"y":1195,"px":262,"py":1018,"k":"red","f":3.5},{"x":128,"y":772,"px":18,"py":655,"k":"ambe","f":0.21}],
"c9l":[{"x":430,"y":580,"t":"OTU_77"},{"x":235,"y":762,"t":"OTU_17"},{"x":266,"y":1047,"t":"OTU_58"},{"x":493,"y":1285,"t":"OTU_108"}],
"c9t":[{"x":248,"y":658,"x2":266,"y2":630},{"x":140,"y":708,"x2":156,"y2":683},{"x":287,"y":1205,"x2":302,"y2":1232}],
"c10":[{"x":234,"y":70,"px":177,"py":-51,"k":"n","f":0.03},{"x":336,"y":153,"px":234,"py":70,"k":"n","f":0.03},{"x":236,"y":216,"px":234,"py":70,"k":"n","f":0.03},{"x":220,"y":330,"px":236,"py":216,"k":"yel","f":0.88},{"x":298,"y":411,"px":236,"py":216,"k":"n","f":0.03},{"x":330,"y":595,"px":298,"py":411,"k":"ora","f":0.33},{"x":392,"y":578,"px":298,"py":411,"k":"ora","f":0.03},{"x":471,"y":150,"px":336,"py":153,"k":"n","f":0.03},{"x":610,"y":136,"px":471,"py":150,"k":"bry","f":0.39},{"x":586,"y":284,"px":471,"py":150,"k":"ambe","f":0.46},{"x":382,"y":349,"px":336,"py":153,"k":"n","f":0.03},{"x":430,"y":548,"px":382,"py":349,"k":"sal","f":0.27},{"x":497,"y":489,"px":382,"py":349,"k":"sal","f":0.11},
{"x":405,"y":128,"px":368,"py":-39,"k":"n","f":0.03},{"x":534,"y":172,"px":405,"py":128,"k":"n","f":0.03},{"x":677,"y":217,"px":534,"py":172,"k":"bry","f":0.33},{"x":644,"y":325,"px":534,"py":172,"k":"gry","f":1.66},{"x":436,"y":320,"px":405,"py":128,"k":"n","f":0.03},{"x":469,"y":520,"px":436,"py":320,"k":"sal","f":0.11},{"x":557,"y":469,"px":436,"py":320,"k":"sal","f":0.03},
{"x":434,"y":72,"px":298,"py":-42,"k":"n","f":0.03},{"x":582,"y":75,"px":434,"py":72,"k":"n","f":0.03},{"x":488,"y":270,"px":434,"py":72,"k":"n","f":0.03},{"x":740,"y":101,"px":582,"py":75,"k":"n","f":0.03},{"x":671,"y":172,"px":582,"py":75,"k":"n","f":0.03},{"x":853,"y":43,"px":740,"py":101,"k":"n","f":0.03},{"x":972,"y":-2,"px":853,"py":43,"k":"ora","f":0.11},{"x":975,"y":96,"px":853,"py":43,"k":"ora","f":0.16},{"x":895,"y":237,"px":740,"py":101,"k":"n","f":0.03},{"x":1013,"y":236,"px":895,"py":237,"k":"n","f":0.03},{"x":973,"y":401,"px":895,"py":237,"k":"n","f":0.03},{"x":1137,"y":214,"px":1013,"py":236,"k":"sal","f":0.79},{"x":1124,"y":337,"px":1013,"py":236,"k":"sal","f":0.33},{"x":1096,"y":461,"px":973,"py":401,"k":"sal","f":0.27},{"x":1052,"y":562,"px":973,"py":401,"k":"sal","f":0.33},{"x":783,"y":138,"px":671,"py":172,"k":"sal","f":0.39},{"x":783,"y":329,"px":671,"py":172,"k":"n","f":0.03},{"x":913,"y":373,"px":783,"py":329,"k":"sal","f":0.11},{"x":870,"y":491,"px":783,"py":329,"k":"sal","f":0.79},
{"x":606,"y":393,"px":488,"py":270,"k":"n","f":0.03},{"x":524,"y":456,"px":488,"py":270,"k":"n","f":0.03},{"x":697,"y":440,"px":606,"py":393,"k":"peach","f":0.27},{"x":733,"y":554,"px":606,"py":393,"k":"n","f":0.03},{"x":845,"y":589,"px":733,"py":554,"k":"sal","f":0.88},{"x":842,"y":706,"px":733,"py":554,"k":"n","f":0.03},{"x":975,"y":745,"px":842,"py":706,"k":"sal","f":0.98},{"x":917,"y":851,"px":842,"py":706,"k":"sal","f":0.7},{"x":538,"y":629,"px":524,"py":456,"k":"yel","f":1.08},{"x":624,"y":639,"px":524,"py":456,"k":"n","f":0.03},{"x":738,"y":748,"px":624,"py":639,"k":"ora","f":0.11},{"x":678,"y":813,"px":624,"py":639,"k":"ora","f":0.01}],
"c10l":[{"x":808,"y":238,"t":"OTU_85"}],
"c10t":[{"x":648,"y":317,"x2":662,"y2":290}],
"tx":[{"x":58,"y":90,"t":"A"},{"x":2065,"y":97,"t":"B"},{"x":2062,"y":1039,"t":"C"}],
"pl":[{"p":"Actinobacteria","t":"a","x":38},{"p":"Bacteroidetes","t":"a","x":443},{"p":"Firmicutes","t":"a","x":835},{"p":"Fusobacteria","t":"a","x":1176},{"p":"Proteobacteria","t":"a","x":1551}],
"pn":[{"t":"p__Actinobacteria","x":79},{"t":"p__Bacteroidetes","x":489},{"t":"p__Firmicutes","x":878},{"t":"p__Fusobacteria","x":1214},{"t":"p__Proteobacteria","x":1597}],
"wt":[{"x":689,"x2":689,"y":2375,"y2":2381},{"x":689,"x2":689,"y":2397,"y2":2403},{"x":862,"x2":862,"y":2375,"y2":2381},{"x":862,"x2":862,"y":2397,"y2":2403},{"x":1036,"x2":1036,"y":2375,"y2":2381},{"x":1036,"x2":1036,"y":2397,"y2":2403},{"x":3251,"x2":3258,"y":2215,"y2":2215},{"x":3277,"x2":3284,"y":2215,"y2":2215},{"x":3251,"x2":3258,"y":2250,"y2":2250},{"x":3277,"x2":3284,"y":2250,"y2":2250},{"x":3251,"x2":3258,"y":2285,"y2":2285},{"x":3277,"x2":3284,"y":2285,"y2":2285},{"x":3251,"x2":3258,"y":2319,"y2":2319},{"x":3277,"x2":3284,"y":2319,"y2":2319}]
},
"layer":[
{"data":{"name":"gc"},"mark":{"type":"rule","color":"#ffffff","strokeWidth":2},"encoding":{"x":{"field":"c","type":"quantitative","scale":{"domain":[-0.5,42.5],"range":[160,1310],"nice":false,"zero":false},"axis":null},"y":{"datum":404,"scale":{"domain":[0,2564],"range":[0,2564],"nice":false,"zero":false},"axis":null},"y2":{"datum":2276}}},
{"data":{"name":"gr"},"mark":{"type":"rule","color":"#ffffff","strokeWidth":2},"encoding":{"y":{"field":"r","type":"quantitative","scale":{"domain":[-0.5,57.5],"range":[409,2271],"nice":false,"zero":false},"axis":null},"x":{"datum":158,"scale":{"domain":[0,3379],"range":[0,3379],"nice":false,"zero":false},"axis":null},"x2":{"datum":1312}}},
{"data":{"name":"cells"},"mark":{"type":"rect"},"encoding":{"x":{"field":"c","type":"ordinal","scale":{"type":"band","domain":[0,1,2,3,4,5,6,7,8,9,10,11,12,13,14,15,16,17,18,19,20,21,22,23,24,25,26,27,28,29,30,31,32,33,34,35,36,37,38,39,40,41,42],"range":[160,1310],"paddingInner":0,"paddingOuter":0},"axis":null},"y":{"field":"o","type":"nominal","sort":null,"scale":{"type":"band","domain":["OTU_196","OTU_108","OTU_105","OTU_58","OTU_123","OTU_86","OTU_77","OTU_160","OTU_181","OTU_239","OTU_578","OTU_394","OTU_321","OTU_216","OTU_164","OTU_152","OTU_327","OTU_639","OTU_774","OTU_479","OTU_127","OTU_155","OTU_111","OTU_454","OTU_408","OTU_409","OTU_286","OTU_288","OTU_435","OTU_584","OTU_368","OTU_137","OTU_40","OTU_17","OTU_29","OTU_13","OTU_26","OTU_42","OTU_3","OTU_145","OTU_49","OTU_182","OTU_85","OTU_334","OTU_630","OTU_475","OTU_543","OTU_102","OTU_47","OTU_236","OTU_93","OTU_5","OTU_39","OTU_38","OTU_189","OTU_1013","OTU_215","OTU_230"],"range":[409,2271],"paddingInner":0,"paddingOuter":0},"axis":{"orient":"right","offset":-2067,"title":null,"domain":false,"grid":false,"tickSize":14,"tickWidth":3,"tickColor":"#444444","labelFont":"Liberation Mono","labelFontSize":30.6,"labelColor":"#444444","labelPadding":31,"labelOffset":2,"labelOverlap":false,"labelBound":false}},"color":{"condition":{"test":"datum.v<0.04","value":"#0A0A50"},"field":"v","type":"quantitative","scale":{"type":"log","domain":[100,50,30,10,5,2.6,1,0.4,0.2,0.13,0.085,0.055,0.043],"range":["#FFDCC0","#FF9CC8","#FF7CF0","#C87CFA","#8A64EC","#6058E0","#3F50B0","#2E62A2","#2570A0","#228090","#22707C","#215360","#16263A"]},"legend":{"orient":"none","legendX":515,"legendY":2312,"direction":"horizontal","title":"log₁₀ (relative abundance)","titleFontSize":33,"titleFontWeight":"normal","titleAnchor":"middle","titleLimit":900,"titlePadding":27,"gradientLength":586,"gradientThickness":28,"gradientStrokeWidth":0,"values":[10,1,0.1],"format":".1f","labelFontSize":30,"labelOffset":18}}}},
{"data":{"name":"gb"},"mark":{"type":"rect"},"encoding":{"x":{"field":"c","type":"ordinal","scale":{"type":"band","domain":[0,1,2,3,4,5,6,7,8,9,10,11,12,13,14,15,16,17,18,19,20,21,22,23,24,25,26,27,28,29,30,31,32,33,34,35,36,37,38,39,40,41,42],"range":[160,1310],"paddingInner":0,"paddingOuter":0},"axis":null},"y":{"datum":"Group","type":"nominal","scale":{"type":"band","domain":["Group"],"range":[328,403],"paddingInner":0,"paddingOuter":0},"axis":{"orient":"right","offset":-2067,"title":null,"domain":false,"grid":false,"tickSize":14,"tickWidth":3,"tickColor":"#444444","labelFont":"Liberation Mono","labelFontSize":30.6,"labelColor":"#444444","labelPadding":31,"labelOffset":3}},"color":{"field":"g","type":"nominal","scale":{"domain":["CD","Control"],"range":["#FDC752","#00C9C0"]},"legend":{"orient":"none","legendX":36,"legendY":2288,"direction":"horizontal","title":"Group","titleFontSize":37,"titleFontWeight":"normal","titlePadding":12,"symbolType":"square","symbolSize":1122,"symbolStrokeWidth":0,"labelFontSize":29,"labelOffset":13,"columnPadding":45}}}},
{"data":{"values":[{"f":1}]},"mark":{"type":"rect","fill":null,"fillOpacity":0,"stroke":"#444444","strokeWidth":3},"encoding":{"x":{"datum":158,"scale":{"domain":[0,3379],"range":[0,3379],"nice":false,"zero":false},"axis":null},"x2":{"datum":1312},"y":{"datum":404,"scale":{"domain":[0,2564],"range":[0,2564],"nice":false,"zero":false},"axis":null},"y2":{"datum":2276}}},
{"data":{"name":"dt"},"encoding":{"x":{"field":"a","type":"quantitative","scale":{"domain":[-0.5,42.5],"range":[160,1310],"nice":false,"zero":false},"axis":null},"y":{"field":"h","type":"quantitative","scale":{"domain":[0,2564],"range":[0,2564],"nice":false,"zero":false},"axis":null}},"layer":[
{"mark":{"type":"rule","color":"#444444","strokeWidth":3},"encoding":{"x2":{"field":"b"}}},
{"mark":{"type":"rule","color":"#444444","strokeWidth":3},"encoding":{"y2":{"field":"ha"}}},
{"mark":{"type":"rule","color":"#444444","strokeWidth":3},"encoding":{"x":{"field":"b","type":"quantitative"},"y2":{"field":"hb"}}}]},
{"data":{"name":"dl"},"encoding":{"y":{"field":"a","type":"quantitative","scale":{"domain":[-0.5,57.5],"range":[409,2271],"nice":false,"zero":false},"axis":null},"x":{"field":"h","type":"quantitative","scale":{"domain":[0,3379],"range":[0,3379],"nice":false,"zero":false},"axis":null}},"layer":[
{"mark":{"type":"rule","color":"#444444","strokeWidth":3},"encoding":{"y2":{"field":"b"}}},
{"mark":{"type":"rule","color":"#444444","strokeWidth":3},"encoding":{"x2":{"field":"ha"}}},
{"mark":{"type":"rule","color":"#444444","strokeWidth":3},"encoding":{"y":{"field":"b","type":"quantitative"},"x2":{"field":"hb"}}}]},
{"data":{"name":"genus"},"mark":{"type":"text","align":"left","baseline":"middle","fontSize":31.4,"font":"Roboto","dy":2},"encoding":{"y":{"field":"o","type":"nominal","sort":null,"scale":{"type":"band","domain":["OTU_196","OTU_108","OTU_105","OTU_58","OTU_123","OTU_86","OTU_77","OTU_160","OTU_181","OTU_239","OTU_578","OTU_394","OTU_321","OTU_216","OTU_164","OTU_152","OTU_327","OTU_639","OTU_774","OTU_479","OTU_127","OTU_155","OTU_111","OTU_454","OTU_408","OTU_409","OTU_286","OTU_288","OTU_435","OTU_584","OTU_368","OTU_137","OTU_40","OTU_17","OTU_29","OTU_13","OTU_26","OTU_42","OTU_3","OTU_145","OTU_49","OTU_182","OTU_85","OTU_334","OTU_630","OTU_475","OTU_543","OTU_102","OTU_47","OTU_236","OTU_93","OTU_5","OTU_39","OTU_38","OTU_189","OTU_1013","OTU_215","OTU_230"],"range":[409,2271],"paddingInner":0,"paddingOuter":0},"axis":null},"x":{"datum":1529,"scale":{"domain":[0,3379],"range":[0,3379],"nice":false,"zero":false},"axis":null},"text":{"field":"n"},"color":{"field":"p","type":"nominal","scale":{"domain":["Actinobacteria","Bacteroidetes","Firmicutes","Fusobacteria","Proteobacteria"],"range":["#F8766D","#A3A500","#00BF7D","#00B0F6","#E76BF3"]},"legend":null}}},
{"data":{"name":"pl"},"mark":{"type":"text","align":"left","baseline":"middle","fontSize":41,"font":"Roboto"},"encoding":{"x":{"field":"x","type":"quantitative","scale":{"domain":[0,3379],"range":[0,3379],"nice":false,"zero":false},"axis":null},"y":{"datum":2490,"scale":{"domain":[0,2564],"range":[0,2564],"nice":false,"zero":false},"axis":null},"text":{"field":"t"},"color":{"field":"p","type":"nominal","scale":{"domain":["Actinobacteria","Bacteroidetes","Firmicutes","Fusobacteria","Proteobacteria"],"range":["#F8766D","#A3A500","#00BF7D","#00B0F6","#E76BF3"]},"legend":null}}},
{"data":{"name":"pn"},"mark":{"type":"text","align":"left","baseline":"middle","fontSize":41,"font":"Roboto","color":"#444444"},"encoding":{"x":{"field":"x","type":"quantitative","scale":{"domain":[0,3379],"range":[0,3379],"nice":false,"zero":false},"axis":null},"y":{"datum":2490,"scale":{"domain":[0,2564],"range":[0,2564],"nice":false,"zero":false},"axis":null},"text":{"field":"t"}}},
{"data":{"values":[{"t":"Phylum"}]},"mark":{"type":"text","align":"left","baseline":"middle","fontSize":36.5,"font":"Roboto","color":"#444444"},"encoding":{"x":{"datum":36,"scale":{"domain":[0,3379],"range":[0,3379],"nice":false,"zero":false},"axis":null},"y":{"datum":2435,"scale":{"domain":[0,2564],"range":[0,2564],"nice":false,"zero":false},"axis":null},"text":{"field":"t"}}},
{"data":{"name":"tx"},"mark":{"type":"text","align":"center","baseline":"middle","fontSize":50,"font":"Roboto","fontWeight":500,"color":"#444444"},"encoding":{"x":{"field":"x","type":"quantitative","scale":{"domain":[0,3379],"range":[0,3379],"nice":false,"zero":false},"axis":null},"y":{"field":"y","type":"quantitative","scale":{"domain":[0,2564],"range":[0,2564],"nice":false,"zero":false},"axis":null},"text":{"field":"t"}}},
{"encoding":{"x":{"field":"x","type":"quantitative","scale":{"domain":[0,1568],"range":[1940,3379],"nice":false,"zero":false},"axis":null},"y":{"field":"y","type":"quantitative","scale":{"domain":[0,1568],"range":[40,1040],"nice":false,"zero":false},"axis":null}},"layer":[
{"data":{"name":"bn"},"mark":{"type":"rule","color":"#B0BABE","strokeWidth":3},"encoding":{"x2":{"field":"px"},"y2":{"field":"py"}}},
{"data":{"name":"bn"},"transform":[{"filter":"datum.k==='n'"}],"mark":{"type":"circle","color":"#B8C4C6","size":50,"opacity":1}},
{"data":{"name":"bn"},"transform":[{"filter":"datum.k!=='n'"}],"mark":{"type":"circle","size":1134,"opacity":1},"encoding":{"color":{"field":"k","type":"nominal","scale":{"domain":["CD","Control"],"range":["#FDC752","#00C9C0"]},"legend":{"orient":"none","legendX":2866,"legendY":62,"title":"Group","titleFontSize":38,"titleFontWeight":"normal","titlePadding":13,"symbolType":"circle","symbolSize":1134,"labelFontSize":38,"labelOffset":19,"rowPadding":13}}}},
{"data":{"name":"bl"},"mark":{"type":"text","align":"center","baseline":"middle","fontSize":31,"font":"Roboto","color":"#ffffff","stroke":"#ffffff","strokeWidth":3,"opacity":0.8},"encoding":{"text":{"field":"t"}}},
{"data":{"name":"bl"},"mark":{"type":"text","align":"center","baseline":"middle","fontSize":31,"font":"Roboto","color":"#444444"},"encoding":{"text":{"field":"t"}}}]},
{"encoding":{"x":{"field":"x","type":"quantitative","scale":{"domain":[0,1568],"range":[2000,3379],"nice":false,"zero":false},"axis":null},"y":{"field":"y","type":"quantitative","scale":{"domain":[0,1568],"range":[780,1380],"nice":false,"zero":false},"axis":null}},"layer":[
{"data":{"name":"c6"},"mark":{"type":"rule","color":"#76CFCF","strokeWidth":2.5},"encoding":{"x2":{"field":"px"},"y2":{"field":"py"}}},
{"data":{"name":"c6"},"mark":{"type":"circle","opacity":1},"encoding":{"color":{"field":"k","type":"nominal","legend":null,"scale":{"domain":["n","sand","yel","bry","gold","ambe","tan","lty","peach","sal","cor","org","ora","orb","red","rep","mag","hot","pnk","rose","gry","grn","tgr","lgr","lg2","teal","pur"],"range":["#9CCFCE","#ECD08C","#F4D470","#FBD94A","#EFB93A","#E39D2E","#DFBB6A","#F9E08E","#FFCBAE","#FB9C86","#FF8070","#FF6B20","#F78D5A","#FF9433","#FF5247","#FF4066","#FF4A90","#FF50B8","#F985B8","#FF80B0","#E88A85","#17B25A","#18B67F","#80EA70","#A6F29A","#00C8C0","#6A5CE8"]}},"size":{"field":"f","type":"quantitative","legend":null,"scale":{"domain":[0,6],"range":[40,2124],"zero":false,"nice":false}}}},
{"data":{"name":"c6t"},"mark":{"type":"rule","color":"#2A2A2A","strokeWidth":4},"encoding":{"x2":{"field":"x2"},"y2":{"field":"y2"}}},
{"data":{"name":"c6l"},"mark":{"type":"text","align":"center","baseline":"middle","fontSize":31,"font":"Roboto","color":"#ffffff","stroke":"#ffffff","strokeWidth":3,"opacity":0.8},"encoding":{"text":{"field":"t"}}},
{"data":{"name":"c6l"},"mark":{"type":"text","align":"center","baseline":"middle","fontSize":31,"font":"Roboto","color":"#444444"},"encoding":{"text":{"field":"t"}}}]},
{"encoding":{"x":{"field":"x","type":"quantitative","scale":{"domain":[0,1568],"range":[2000,3379],"nice":false,"zero":false},"axis":null},"y":{"field":"y","type":"quantitative","scale":{"domain":[0,1500],"range":[1340,1840],"nice":false,"zero":false},"axis":null}},"layer":[
{"data":{"name":"c7"},"mark":{"type":"rule","color":"#76CFCF","strokeWidth":2.5},"encoding":{"x2":{"field":"px"},"y2":{"field":"py"}}},
{"data":{"name":"c7"},"mark":{"type":"circle","opacity":1},"encoding":{"color":{"field":"k","type":"nominal","legend":null,"scale":{"domain":["n","sand","yel","bry","gold","ambe","tan","lty","peach","sal","cor","org","ora","orb","red","rep","mag","hot","pnk","rose","gry","grn","tgr","lgr","lg2","teal","pur"],"range":["#9CCFCE","#ECD08C","#F4D470","#FBD94A","#EFB93A","#E39D2E","#DFBB6A","#F9E08E","#FFCBAE","#FB9C86","#FF8070","#FF6B20","#F78D5A","#FF9433","#FF5247","#FF4066","#FF4A90","#FF50B8","#F985B8","#FF80B0","#E88A85","#17B25A","#18B67F","#80EA70","#A6F29A","#00C8C0","#6A5CE8"]}},"size":{"field":"f","type":"quantitative","legend":null,"scale":{"domain":[0,6],"range":[40,2124],"zero":false,"nice":false}}}},
{"data":{"name":"c7t"},"mark":{"type":"rule","color":"#2A2A2A","strokeWidth":4},"encoding":{"x2":{"field":"x2"},"y2":{"field":"y2"}}},
{"data":{"name":"c7l"},"mark":{"type":"text","align":"center","baseline":"middle","fontSize":31,"font":"Roboto","color":"#ffffff","stroke":"#ffffff","strokeWidth":3,"opacity":0.8},"encoding":{"text":{"field":"t"}}},
{"data":{"name":"c7l"},"mark":{"type":"text","align":"center","baseline":"middle","fontSize":31,"font":"Roboto","color":"#444444"},"encoding":{"text":{"field":"t"}}}]},
{"encoding":{"x":{"field":"x","type":"quantitative","scale":{"domain":[0,1568],"range":[2600,3379],"nice":false,"zero":false},"axis":null},"y":{"field":"y","type":"quantitative","scale":{"domain":[0,960],"range":[1780,2100],"nice":false,"zero":false},"axis":null}},"layer":[
{"data":{"name":"c10"},"mark":{"type":"rule","color":"#76CFCF","strokeWidth":2.5},"encoding":{"x2":{"field":"px"},"y2":{"field":"py"}}},
{"data":{"name":"c10"},"mark":{"type":"circle","opacity":1},"encoding":{"color":{"field":"k","type":"nominal","legend":null,"scale":{"domain":["n","sand","yel","bry","gold","ambe","tan","lty","peach","sal","cor","org","ora","orb","red","rep","mag","hot","pnk","rose","gry","grn","tgr","lgr","lg2","teal","pur"],"range":["#9CCFCE","#ECD08C","#F4D470","#FBD94A","#EFB93A","#E39D2E","#DFBB6A","#F9E08E","#FFCBAE","#FB9C86","#FF8070","#FF6B20","#F78D5A","#FF9433","#FF5247","#FF4066","#FF4A90","#FF50B8","#F985B8","#FF80B0","#E88A85","#17B25A","#18B67F","#80EA70","#A6F29A","#00C8C0","#6A5CE8"]}},"size":{"field":"f","type":"quantitative","legend":null,"scale":{"domain":[0,6],"range":[40,2124],"zero":false,"nice":false}}}},
{"data":{"name":"c10t"},"mark":{"type":"rule","color":"#2A2A2A","strokeWidth":4},"encoding":{"x2":{"field":"x2"},"y2":{"field":"y2"}}},
{"data":{"name":"c10l"},"mark":{"type":"text","align":"center","baseline":"middle","fontSize":31,"font":"Roboto","color":"#444444"},"encoding":{"text":{"field":"t"}}}]},
{"encoding":{"x":{"field":"x","type":"quantitative","scale":{"domain":[0,1568],"range":[1800,2800],"nice":false,"zero":false},"axis":null},"y":{"field":"y","type":"quantitative","scale":{"domain":[0,1568],"range":[1780,2564],"nice":false,"zero":false},"axis":null}},"layer":[
{"data":{"name":"c8"},"mark":{"type":"rule","color":"#76CFCF","strokeWidth":2.5},"encoding":{"x2":{"field":"px"},"y2":{"field":"py"}}},
{"data":{"name":"c8"},"mark":{"type":"circle","opacity":1},"encoding":{"color":{"field":"k","type":"nominal","legend":null,"scale":{"domain":["n","sand","yel","bry","gold","ambe","tan","lty","peach","sal","cor","org","ora","orb","red","rep","mag","hot","pnk","rose","gry","grn","tgr","lgr","lg2","teal","pur"],"range":["#9CCFCE","#ECD08C","#F4D470","#FBD94A","#EFB93A","#E39D2E","#DFBB6A","#F9E08E","#FFCBAE","#FB9C86","#FF8070","#FF6B20","#F78D5A","#FF9433","#FF5247","#FF4066","#FF4A90","#FF50B8","#F985B8","#FF80B0","#E88A85","#17B25A","#18B67F","#80EA70","#A6F29A","#00C8C0","#6A5CE8"]}},"size":{"field":"f","type":"quantitative","legend":null,"scale":{"domain":[0,6],"range":[40,2124],"zero":false,"nice":false}}}},
{"data":{"name":"c8t"},"mark":{"type":"rule","color":"#2A2A2A","strokeWidth":4},"encoding":{"x2":{"field":"x2"},"y2":{"field":"y2"}}},
{"data":{"name":"c8l"},"mark":{"type":"text","align":"center","baseline":"middle","fontSize":31,"font":"Roboto","color":"#ffffff","stroke":"#ffffff","strokeWidth":3,"opacity":0.8},"encoding":{"text":{"field":"t"}}},
{"data":{"name":"c8l"},"mark":{"type":"text","align":"center","baseline":"middle","fontSize":31,"font":"Roboto","color":"#444444"},"encoding":{"text":{"field":"t"}}}]},
{"encoding":{"x":{"field":"x","type":"quantitative","scale":{"domain":[0,1568],"range":[2700,3379],"nice":false,"zero":false},"axis":null},"y":{"field":"y","type":"quantitative","scale":{"domain":[0,1542],"range":[2050,2564],"nice":false,"zero":false},"axis":null}},"layer":[
{"data":{"name":"c9"},"mark":{"type":"rule","color":"#76CFCF","strokeWidth":2.5},"encoding":{"x2":{"field":"px"},"y2":{"field":"py"}}},
{"data":{"name":"c9"},"mark":{"type":"circle","opacity":1},"encoding":{"color":{"field":"k","type":"nominal","legend":null,"scale":{"domain":["n","sand","yel","bry","gold","ambe","tan","lty","peach","sal","cor","org","ora","orb","red","rep","mag","hot","pnk","rose","gry","grn","tgr","lgr","lg2","teal","pur"],"range":["#9CCFCE","#ECD08C","#F4D470","#FBD94A","#EFB93A","#E39D2E","#DFBB6A","#F9E08E","#FFCBAE","#FB9C86","#FF8070","#FF6B20","#F78D5A","#FF9433","#FF5247","#FF4066","#FF4A90","#FF50B8","#F985B8","#FF80B0","#E88A85","#17B25A","#18B67F","#80EA70","#A6F29A","#00C8C0","#6A5CE8"]}},"size":{"field":"f","type":"quantitative","legend":null,"scale":{"domain":[0,6],"range":[40,2124],"zero":false,"nice":false}}}},
{"data":{"name":"c9t"},"mark":{"type":"rule","color":"#2A2A2A","strokeWidth":4},"encoding":{"x2":{"field":"x2"},"y2":{"field":"y2"}}},
{"data":{"name":"c9l"},"mark":{"type":"text","align":"center","baseline":"middle","fontSize":31,"font":"Roboto","color":"#444444"},"encoding":{"text":{"field":"t"}}}]},
{"data":{"values":[{"fdr":2,"logFC":0}]},"transform":[{"filter":"false"}],"mark":{"type":"point","filled":false,"color":"#444444","strokeWidth":4},"encoding":{"x":{"datum":3064,"scale":{"domain":[0,3379],"range":[0,3379],"nice":false,"zero":false},"axis":null},"y":{"datum":2195,"scale":{"domain":[0,2564],"range":[0,2564],"nice":false,"zero":false},"axis":null},"size":{"field":"fdr","type":"quantitative","scale":{"domain":[2,4,6],"range":[908,1520,2124],"zero":false,"nice":false},"legend":{"orient":"none","legendX":3036,"legendY":2136,"title":"-log10 (FDR)","titleFontSize":31,"titleFontWeight":"normal","titlePadding":10,"values":[2,4,6],"symbolType":"circle","symbolStrokeColor":"#444444","symbolStrokeWidth":4,"symbolFillColor":"transparent","labelFontSize":30,"labelOffset":12,"rowPadding":16}}}},
{"data":{"values":[{"fdr":2,"logFC":0}]},"transform":[{"filter":"false"}],"mark":{"type":"square"},"encoding":{"x":{"datum":3260,"scale":{"domain":[0,3379],"range":[0,3379],"nice":false,"zero":false},"axis":null},"y":{"datum":2260,"scale":{"domain":[0,2564],"range":[0,2564],"nice":false,"zero":false},"axis":null},"color":{"field":"logFC","type":"quantitative","scale":{"domain":[-9.76,-8,-6,-4,-2,0,2,4,6,8,10,12,13.75],"range":["#F05850","#FF5050","#FF4CA0","#FB8FB0","#F89C60","#EEB835","#F9C850","#F4D068","#F0D47E","#ECD48C","#F0D5A0","#F6D8B0","#FFDCC0"],"zero":false,"nice":false},"legend":{"orient":"none","legendX":3250,"legendY":2133,"title":"logFC","titleFontSize":32,"titleFontWeight":"normal","titlePadding":26,"gradientLength":163,"gradientThickness":34,"gradientStrokeWidth":0,"values":[-5,0,5,10],"labelFontSize":30,"labelOffset":7}}}},
{"data":{"name":"wt"},"mark":{"type":"rule","color":"#ffffff","strokeWidth":2},"encoding":{"x":{"field":"x","type":"quantitative","scale":{"domain":[0,3379],"range":[0,3379],"nice":false,"zero":false},"axis":null},"x2":{"field":"x2"},"y":{"field":"y","type":"quantitative","scale":{"domain":[0,2564],"range":[0,2564],"nice":false,"zero":false},"axis":null},"y2":{"field":"y2"}}}
]}
